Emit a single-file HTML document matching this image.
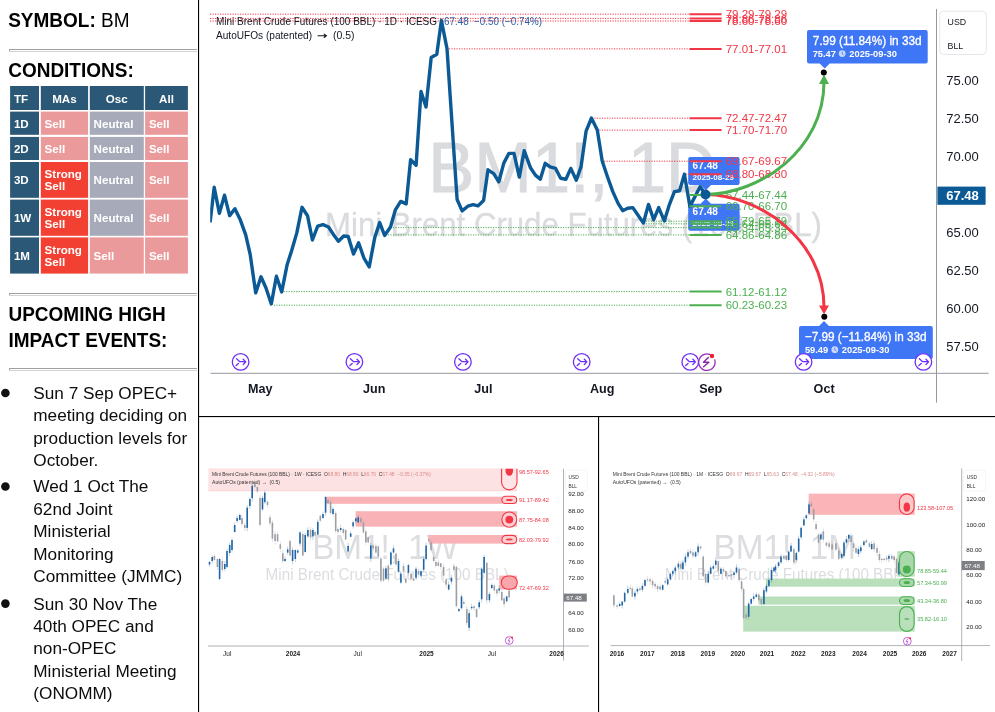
<!DOCTYPE html>
<html><head><meta charset="utf-8"><style>
html,body{margin:0;padding:0;background:#fff;width:995px;height:712px;overflow:hidden}
svg{position:absolute;left:0;top:0;display:block;will-change:transform}
text{font-family:"Liberation Sans",sans-serif;white-space:pre}
</style></head><body>
<svg width="995" height="712" viewBox="0 0 995 712">
<text transform="translate(8.2,26.7) scale(1,1.06)" x="0" y="0" font-size="19" fill="#000" font-weight="normal"><tspan font-weight="bold">SYMBOL:</tspan> BM</text>
<text transform="translate(8.2,76.8) scale(1,1.06)" x="0" y="0" font-size="19" fill="#000" font-weight="bold">CONDITIONS:</text>
<text transform="translate(8.5,321.3) scale(1,1.06)" x="0" y="0" font-size="19" fill="#000" font-weight="bold">UPCOMING HIGH</text>
<text transform="translate(8.5,346.9) scale(1,1.06)" x="0" y="0" font-size="19" fill="#000" font-weight="bold">IMPACT EVENTS:</text>
<rect x="9" y="49" width="188" height="1" fill="#a0a0a0"/>
<rect x="9" y="51" width="188" height="1" fill="#d2d2d2"/>
<rect x="9" y="49" width="1" height="2" fill="#a0a0a0"/>
<rect x="9" y="293" width="188" height="1" fill="#a0a0a0"/>
<rect x="9" y="295" width="188" height="1" fill="#d2d2d2"/>
<rect x="9" y="293" width="1" height="2" fill="#a0a0a0"/>
<rect x="9" y="368" width="188" height="1" fill="#a0a0a0"/>
<rect x="9" y="370" width="188" height="1" fill="#d2d2d2"/>
<rect x="9" y="368" width="1" height="2" fill="#a0a0a0"/>
<rect x="10.1" y="86" width="28.9" height="24.0" fill="#2a5876"/>
<text x="13.899999999999999" y="103.3" font-size="11.6" fill="#fff" font-weight="bold" text-anchor="start" >TF</text>
<rect x="40.8" y="86" width="47.3" height="24.0" fill="#2a5876"/>
<text x="64.44999999999999" y="103.3" font-size="11.6" fill="#fff" font-weight="bold" text-anchor="middle" >MAs</text>
<rect x="89.8" y="86" width="54.0" height="24.0" fill="#2a5876"/>
<text x="116.80000000000001" y="103.3" font-size="11.6" fill="#fff" font-weight="bold" text-anchor="middle" >Osc</text>
<rect x="145.1" y="86" width="42.8" height="24.0" fill="#2a5876"/>
<text x="166.5" y="103.3" font-size="11.6" fill="#fff" font-weight="bold" text-anchor="middle" >All</text>
<rect x="10.1" y="111.6" width="28.9" height="23.2" fill="#2a5876"/>
<text x="13.899999999999999" y="127.5" font-size="11.6" fill="#fff" font-weight="bold" text-anchor="start" >1D</text>
<rect x="40.8" y="111.6" width="47.3" height="23.2" fill="#eb9a9c"/>
<text x="44.599999999999994" y="127.5" font-size="11.6" fill="#fff" font-weight="bold" text-anchor="start" >Sell</text>
<rect x="89.8" y="111.6" width="54.0" height="23.2" fill="#a7abb9"/>
<text x="93.6" y="127.5" font-size="11.6" fill="#fff" font-weight="bold" text-anchor="start" >Neutral</text>
<rect x="145.1" y="111.6" width="42.8" height="23.2" fill="#eb9a9c"/>
<text x="148.9" y="127.5" font-size="11.6" fill="#fff" font-weight="bold" text-anchor="start" >Sell</text>
<rect x="10.1" y="136.9" width="28.9" height="23.1" fill="#2a5876"/>
<text x="13.899999999999999" y="152.75" font-size="11.6" fill="#fff" font-weight="bold" text-anchor="start" >2D</text>
<rect x="40.8" y="136.9" width="47.3" height="23.1" fill="#eb9a9c"/>
<text x="44.599999999999994" y="152.75" font-size="11.6" fill="#fff" font-weight="bold" text-anchor="start" >Sell</text>
<rect x="89.8" y="136.9" width="54.0" height="23.1" fill="#a7abb9"/>
<text x="93.6" y="152.75" font-size="11.6" fill="#fff" font-weight="bold" text-anchor="start" >Neutral</text>
<rect x="145.1" y="136.9" width="42.8" height="23.1" fill="#eb9a9c"/>
<text x="148.9" y="152.75" font-size="11.6" fill="#fff" font-weight="bold" text-anchor="start" >Sell</text>
<rect x="10.1" y="162" width="28.9" height="35.8" fill="#2a5876"/>
<text x="13.899999999999999" y="184.20000000000002" font-size="11.6" fill="#fff" font-weight="bold" text-anchor="start" >3D</text>
<rect x="40.8" y="162" width="47.3" height="35.8" fill="#f24133"/>
<text x="44.599999999999994" y="178.1" font-size="11.6" fill="#fff" font-weight="bold" text-anchor="start" >Strong</text>
<text x="44.599999999999994" y="190.1" font-size="11.6" fill="#fff" font-weight="bold" text-anchor="start" >Sell</text>
<rect x="89.8" y="162" width="54.0" height="35.8" fill="#a7abb9"/>
<text x="93.6" y="184.20000000000002" font-size="11.6" fill="#fff" font-weight="bold" text-anchor="start" >Neutral</text>
<rect x="145.1" y="162" width="42.8" height="35.8" fill="#eb9a9c"/>
<text x="148.9" y="184.20000000000002" font-size="11.6" fill="#fff" font-weight="bold" text-anchor="start" >Sell</text>
<rect x="10.1" y="199.6" width="28.9" height="36.2" fill="#2a5876"/>
<text x="13.899999999999999" y="222.0" font-size="11.6" fill="#fff" font-weight="bold" text-anchor="start" >1W</text>
<rect x="40.8" y="199.6" width="47.3" height="36.2" fill="#f24133"/>
<text x="44.599999999999994" y="215.89999999999998" font-size="11.6" fill="#fff" font-weight="bold" text-anchor="start" >Strong</text>
<text x="44.599999999999994" y="227.89999999999998" font-size="11.6" fill="#fff" font-weight="bold" text-anchor="start" >Sell</text>
<rect x="89.8" y="199.6" width="54.0" height="36.2" fill="#a7abb9"/>
<text x="93.6" y="222.0" font-size="11.6" fill="#fff" font-weight="bold" text-anchor="start" >Neutral</text>
<rect x="145.1" y="199.6" width="42.8" height="36.2" fill="#eb9a9c"/>
<text x="148.9" y="222.0" font-size="11.6" fill="#fff" font-weight="bold" text-anchor="start" >Sell</text>
<rect x="10.1" y="237.4" width="28.9" height="36.2" fill="#2a5876"/>
<text x="13.899999999999999" y="259.8" font-size="11.6" fill="#fff" font-weight="bold" text-anchor="start" >1M</text>
<rect x="40.8" y="237.4" width="47.3" height="36.2" fill="#f24133"/>
<text x="44.599999999999994" y="253.7" font-size="11.6" fill="#fff" font-weight="bold" text-anchor="start" >Strong</text>
<text x="44.599999999999994" y="265.7" font-size="11.6" fill="#fff" font-weight="bold" text-anchor="start" >Sell</text>
<rect x="89.8" y="237.4" width="54.0" height="36.2" fill="#eb9a9c"/>
<text x="93.6" y="259.8" font-size="11.6" fill="#fff" font-weight="bold" text-anchor="start" >Sell</text>
<rect x="145.1" y="237.4" width="42.8" height="36.2" fill="#eb9a9c"/>
<text x="148.9" y="259.8" font-size="11.6" fill="#fff" font-weight="bold" text-anchor="start" >Sell</text>
<circle cx="5.4" cy="393.0" r="4.3" fill="#111"/>
<text x="33.3" y="398.9" font-size="17.2" fill="#0d0d0d" font-weight="normal" text-anchor="start" >Sun 7 Sep OPEC+</text>
<text x="33.3" y="421.3" font-size="17.2" fill="#0d0d0d" font-weight="normal" text-anchor="start" >meeting deciding on</text>
<text x="33.3" y="443.7" font-size="17.2" fill="#0d0d0d" font-weight="normal" text-anchor="start" >production levels for</text>
<text x="33.3" y="466.1" font-size="17.2" fill="#0d0d0d" font-weight="normal" text-anchor="start" >October.</text>
<circle cx="5.4" cy="486.5" r="4.3" fill="#111"/>
<text x="33.3" y="492.4" font-size="17.2" fill="#0d0d0d" font-weight="normal" text-anchor="start" >Wed 1 Oct The</text>
<text x="33.3" y="514.8" font-size="17.2" fill="#0d0d0d" font-weight="normal" text-anchor="start" >62nd Joint</text>
<text x="33.3" y="537.2" font-size="17.2" fill="#0d0d0d" font-weight="normal" text-anchor="start" >Ministerial</text>
<text x="33.3" y="559.6" font-size="17.2" fill="#0d0d0d" font-weight="normal" text-anchor="start" >Monitoring</text>
<text x="33.3" y="582.0" font-size="17.2" fill="#0d0d0d" font-weight="normal" text-anchor="start" >Committee (JMMC)</text>
<circle cx="5.4" cy="603.6" r="4.3" fill="#111"/>
<text x="33.3" y="609.5" font-size="17.2" fill="#0d0d0d" font-weight="normal" text-anchor="start" >Sun 30 Nov The</text>
<text x="33.3" y="631.9" font-size="17.2" fill="#0d0d0d" font-weight="normal" text-anchor="start" >40th OPEC and</text>
<text x="33.3" y="654.3" font-size="17.2" fill="#0d0d0d" font-weight="normal" text-anchor="start" >non-OPEC</text>
<text x="33.3" y="676.7" font-size="17.2" fill="#0d0d0d" font-weight="normal" text-anchor="start" >Ministerial Meeting</text>
<text x="33.3" y="699.1" font-size="17.2" fill="#0d0d0d" font-weight="normal" text-anchor="start" >(ONOMM)</text>
<rect x="198" y="0" width="1.1" height="712" fill="#000"/>
<rect x="198" y="416" width="797" height="1.1" fill="#000"/>
<rect x="598" y="416" width="1.1" height="296" fill="#000"/>
<text x="428.2" y="192.4" font-size="70" fill="#dadbde" stroke="#dadbde" stroke-width="0.9" textLength="287.8" lengthAdjust="spacingAndGlyphs">BM1!, 1D</text>
<text transform="translate(325,236) scale(1,1.09)" x="0" y="0" font-size="30" fill="#dadbde" stroke="#dadbde" stroke-width="0.3" textLength="497" lengthAdjust="spacingAndGlyphs">Mini Brent Crude Futures (100 BBL)</text>
<line x1="210" y1="14.2" x2="689.5" y2="14.2" stroke="#f23645" stroke-width="1" stroke-dasharray="1.2 1.3"/>
<line x1="210" y1="18.4" x2="689.5" y2="18.4" stroke="#f23645" stroke-width="1" stroke-dasharray="1.2 1.3"/>
<line x1="210" y1="21.0" x2="689.5" y2="21.0" stroke="#f23645" stroke-width="1" stroke-dasharray="1.2 1.3"/>
<line x1="449" y1="48.9" x2="689.5" y2="48.9" stroke="#f23645" stroke-width="1" stroke-dasharray="1.2 1.3"/>
<line x1="594.4" y1="118.2" x2="689.5" y2="118.2" stroke="#f23645" stroke-width="1" stroke-dasharray="1.2 1.3"/>
<line x1="599.3" y1="130.1" x2="689.5" y2="130.1" stroke="#f23645" stroke-width="1" stroke-dasharray="1.2 1.3"/>
<line x1="604" y1="161.2" x2="689.5" y2="161.2" stroke="#f23645" stroke-width="1" stroke-dasharray="1.2 1.3"/>
<line x1="686" y1="174.2" x2="689.5" y2="174.2" stroke="#f23645" stroke-width="1" stroke-dasharray="1.2 1.3"/>
<line x1="645.8" y1="221.2" x2="689.5" y2="221.2" stroke="#4caf50" stroke-width="1" stroke-dasharray="1.2 1.3"/>
<line x1="645.8" y1="223.8" x2="689.5" y2="223.8" stroke="#4caf50" stroke-width="1" stroke-dasharray="1.2 1.3"/>
<line x1="388" y1="227.6" x2="689.5" y2="227.6" stroke="#4caf50" stroke-width="1" stroke-dasharray="1.2 1.3"/>
<line x1="388" y1="234.9" x2="689.5" y2="234.9" stroke="#4caf50" stroke-width="1" stroke-dasharray="1.2 1.3"/>
<line x1="283.6" y1="291.6" x2="689.5" y2="291.6" stroke="#4caf50" stroke-width="1" stroke-dasharray="1.2 1.3"/>
<line x1="273.8" y1="305.2" x2="689.5" y2="305.2" stroke="#4caf50" stroke-width="1" stroke-dasharray="1.2 1.3"/>
<path d="M690.2,157 h47.4 a2,2 0 0 1 2,2 v24 a2,2 0 0 1 -2,2 h-26.6 l-5.2,5.2 l-5.2,-5.2 h-10.4 a2,2 0 0 1 -2,-2 v-24 a2,2 0 0 1 2,-2 z" fill="#3f76f6"/>
<path d="M690.2,203.7 h10.4 l5.2,-5.2 l5.2,5.2 h26.6 a2,2 0 0 1 2,2 v23.1 a2,2 0 0 1 -2,2 h-47.4 a2,2 0 0 1 -2,-2 v-23.1 a2,2 0 0 1 2,-2 z" fill="#3f76f6"/>
<text x="692.6" y="169" font-size="10.1" fill="#fff" font-weight="bold" text-anchor="start" >67.48</text>
<text x="692.6" y="179.5" font-size="8.1" fill="#fff" font-weight="bold" text-anchor="start" >2025-08-29</text>
<text x="692.6" y="215" font-size="10.1" fill="#fff" font-weight="bold" text-anchor="start" >67.48</text>
<text x="692.6" y="225.8" font-size="8.1" fill="#fff" font-weight="bold" text-anchor="start" >2025-08-29</text>
<clipPath id="cl"><rect x="210.2" y="0" width="800" height="400"/></clipPath>
<polyline clip-path="url(#cl)" points="210.1,222.4 214.2,187.3 219.4,213.3 224.5,195.2 229.6,215.6 234.9,208.7 240.4,220.1 245.7,234.9 250.2,254.5 255.7,292.9 261,276.8 266,288 271.3,304 276.4,276.2 281.7,291.9 287.2,264.4 291.7,250.5 296.8,232.9 302,207.3 307.5,215.7 312.4,240 317.7,226.2 323,224.6 328.5,227 333.4,234.4 338.4,241.3 343.7,236 348.2,236.4 353.5,254.1 358.6,242.7 363.9,258 369.2,266.9 374.8,237.4 379.7,222.6 384.6,235.4 390.5,227 395.4,209.8 400.7,201.4 406.2,203.9 410.6,159.7 416.1,165.2 421,91.5 426,107 431.2,57.4 436.8,54.2 441.4,20.5 447,48.6 457.1,199.5 462.1,210.9 467.8,206.2 473.1,204.6 477.9,205.9 483.6,200.5 488,169.8 493.7,173.6 498.8,181.8 503.8,163.1 508.9,153.4 514,153.4 519.3,177.1 524.2,150.7 530.5,167.8 535.4,175.1 540.3,179.2 545.2,163.3 550.1,166.9 555.6,168.4 560.6,178.3 565.9,179.2 570.8,168.4 576.3,180.2 581,166.9 586.1,131.1 591.4,118.1 597.3,129.9 602.2,161 607.2,176 612.7,191.4 618.1,203.4 622.7,210.7 627.7,208.3 632.8,207.6 643.4,223 648.5,204.4 653.7,219.7 658.7,207.6 664.3,220.9 669.4,204.6 674.4,191.6 679.6,190.8 684.4,174.2 689.9,206.4 700.1,186.8 705.5,194.4" fill="none" stroke="#0b5a96" stroke-width="3.4" stroke-linejoin="round" stroke-linecap="butt"/>
<line x1="689.5" y1="14.2" x2="721.6" y2="14.2" stroke="#f23645" stroke-width="2"/>
<text x="725.7" y="18.299999999999997" font-size="11.5" fill="#f23645" font-weight="normal" text-anchor="start" >79.29-79.29</text>
<line x1="689.5" y1="18.4" x2="721.6" y2="18.4" stroke="#f23645" stroke-width="2"/>
<text x="725.7" y="22.5" font-size="11.5" fill="#f23645" font-weight="normal" text-anchor="start" >78.86-78.86</text>
<line x1="689.5" y1="21.0" x2="721.6" y2="21.0" stroke="#f23645" stroke-width="2"/>
<text x="725.7" y="25.1" font-size="11.5" fill="#f23645" font-weight="normal" text-anchor="start" >78.60-78.60</text>
<line x1="689.5" y1="48.9" x2="721.6" y2="48.9" stroke="#f23645" stroke-width="2"/>
<text x="725.7" y="53.0" font-size="11.5" fill="#f23645" font-weight="normal" text-anchor="start" >77.01-77.01</text>
<line x1="689.5" y1="118.2" x2="721.6" y2="118.2" stroke="#f23645" stroke-width="2"/>
<text x="725.7" y="122.3" font-size="11.5" fill="#f23645" font-weight="normal" text-anchor="start" >72.47-72.47</text>
<line x1="689.5" y1="130.1" x2="721.6" y2="130.1" stroke="#f23645" stroke-width="2"/>
<text x="725.7" y="134.2" font-size="11.5" fill="#f23645" font-weight="normal" text-anchor="start" >71.70-71.70</text>
<line x1="689.5" y1="161.2" x2="721.6" y2="161.2" stroke="#f23645" stroke-width="2"/>
<text x="725.7" y="165.29999999999998" font-size="11.5" fill="#f23645" font-weight="normal" text-anchor="start" >69.67-69.67</text>
<line x1="689.5" y1="174.2" x2="721.6" y2="174.2" stroke="#f23645" stroke-width="2"/>
<text x="725.7" y="178.29999999999998" font-size="11.5" fill="#f23645" font-weight="normal" text-anchor="start" >68.80-68.80</text>
<line x1="689.5" y1="195.1" x2="721.6" y2="195.1" stroke="#4caf50" stroke-width="2"/>
<text x="725.7" y="199.2" font-size="11.5" fill="#4caf50" font-weight="normal" text-anchor="start" >67.44-67.44</text>
<line x1="689.5" y1="206.2" x2="721.6" y2="206.2" stroke="#4caf50" stroke-width="2"/>
<text x="725.7" y="210.29999999999998" font-size="11.5" fill="#4caf50" font-weight="normal" text-anchor="start" >66.70-66.70</text>
<line x1="689.5" y1="221.2" x2="721.6" y2="221.2" stroke="#4caf50" stroke-width="2"/>
<text x="725.7" y="225.29999999999998" font-size="11.5" fill="#4caf50" font-weight="normal" text-anchor="start" >65.79-65.79</text>
<line x1="689.5" y1="223.8" x2="721.6" y2="223.8" stroke="#4caf50" stroke-width="2"/>
<text x="725.7" y="227.9" font-size="11.5" fill="#4caf50" font-weight="normal" text-anchor="start" >65.64-65.64</text>
<line x1="689.5" y1="227.6" x2="721.6" y2="227.6" stroke="#4caf50" stroke-width="2"/>
<text x="725.7" y="231.7" font-size="11.5" fill="#4caf50" font-weight="normal" text-anchor="start" >65.34-65.34</text>
<line x1="689.5" y1="234.9" x2="721.6" y2="234.9" stroke="#4caf50" stroke-width="2"/>
<text x="725.7" y="239.0" font-size="11.5" fill="#4caf50" font-weight="normal" text-anchor="start" >64.86-64.86</text>
<line x1="689.5" y1="291.6" x2="721.6" y2="291.6" stroke="#4caf50" stroke-width="2"/>
<text x="725.7" y="295.70000000000005" font-size="11.5" fill="#4caf50" font-weight="normal" text-anchor="start" >61.12-61.12</text>
<line x1="689.5" y1="305.2" x2="721.6" y2="305.2" stroke="#4caf50" stroke-width="2"/>
<text x="725.7" y="309.3" font-size="11.5" fill="#4caf50" font-weight="normal" text-anchor="start" >60.23-60.23</text>
<path d="M705.5,194.5 C760,195 824,240 824,307" fill="none" stroke="#f23645" stroke-width="3"/>
<path d="M819,305.5 L824,314.2 L829,305.5 z" fill="#f23645"/>
<path d="M705.5,194.5 C760,194 824,150 824,82" fill="none" stroke="#4caf50" stroke-width="3"/>
<path d="M819,84 L824,74.5 L829,84 z" fill="#4caf50"/>
<circle cx="705.5" cy="194.5" r="5" fill="#0b5a96"/>
<circle cx="823.8" cy="72.5" r="3" fill="#000"/>
<circle cx="824.3" cy="316.8" r="3" fill="#000"/>
<path d="M809,30 h116.7 a2,2 0 0 1 2,2 v29.5 a2,2 0 0 1 -2,2 h-96 l-5,5 l-5,-5 h-10.7 a2,2 0 0 1 -2,-2 v-29.5 a2,2 0 0 1 2,-2 z" fill="#3f76f6"/>
<text x="812.7" y="45" font-size="13.3" fill="#fff" font-weight="normal" text-anchor="start" textLength="109" lengthAdjust="spacingAndGlyphs" stroke="#fff" stroke-width="0.35">7.99 (11.84%) in 33d</text>
<text x="812.7" y="57" font-size="9.3" fill="#fff" font-weight="bold" text-anchor="start" >75.47</text>
<circle cx="842.2" cy="53.6" r="3.4" fill="#c9d8fb"/><path d="M842.2,51.6 V53.8 L843.8,55" fill="none" stroke="#3f76f6" stroke-width="0.8"/>
<text x="849.3" y="57" font-size="9.3" fill="#fff" font-weight="bold" text-anchor="start" >2025-09-30</text>
<path d="M801,326 h18 l5,-5 l5,5 h101.8 a2,2 0 0 1 2,2 v29 a2,2 0 0 1 -2,2 h-129.8 a2,2 0 0 1 -2,-2 v-29 a2,2 0 0 1 2,-2 z" fill="#3f76f6"/>
<text x="804.9" y="341.2" font-size="13.3" fill="#fff" font-weight="normal" text-anchor="start" textLength="121.6" lengthAdjust="spacingAndGlyphs" stroke="#fff" stroke-width="0.35">−7.99 (−11.84%) in 33d</text>
<text x="804.9" y="353.1" font-size="9.3" fill="#fff" font-weight="bold" text-anchor="start" >59.49</text>
<circle cx="834.8" cy="349.7" r="3.4" fill="#c9d8fb"/><path d="M834.8,347.7 V349.9 L836.4,351.1" fill="none" stroke="#3f76f6" stroke-width="0.8"/>
<text x="841.8" y="353.1" font-size="9.3" fill="#fff" font-weight="bold" text-anchor="start" >2025-09-30</text>
<line x1="936.5" y1="9" x2="936.5" y2="402.7" stroke="#9598a1" stroke-width="1"/>
<line x1="210.6" y1="373.3" x2="988.7" y2="373.3" stroke="#9598a1" stroke-width="1"/>
<text x="946.2" y="84.69999999999999" font-size="13" fill="#131722" font-weight="normal" text-anchor="start" >75.00</text>
<text x="946.2" y="122.8" font-size="13" fill="#131722" font-weight="normal" text-anchor="start" >72.50</text>
<text x="946.2" y="160.9" font-size="13" fill="#131722" font-weight="normal" text-anchor="start" >70.00</text>
<text x="946.2" y="237.1" font-size="13" fill="#131722" font-weight="normal" text-anchor="start" >65.00</text>
<text x="946.2" y="275.20000000000005" font-size="13" fill="#131722" font-weight="normal" text-anchor="start" >62.50</text>
<text x="946.2" y="313.3" font-size="13" fill="#131722" font-weight="normal" text-anchor="start" >60.00</text>
<text x="946.2" y="351.40000000000003" font-size="13" fill="#131722" font-weight="normal" text-anchor="start" >57.50</text>
<rect x="937.4" y="186.6" width="48.2" height="18.2" fill="#0b5a96"/>
<text x="946.2" y="200.3" font-size="13" fill="#fff" font-weight="bold" text-anchor="start" >67.48</text>
<rect x="939.7" y="11.2" width="46.6" height="43.3" rx="4" fill="#fff" stroke="#e6e7ea" stroke-width="1"/>
<text x="947.6" y="25.4" font-size="8.8" fill="#131722" font-weight="normal" text-anchor="start" >USD</text>
<text x="947.6" y="48.5" font-size="8.8" fill="#131722" font-weight="normal" text-anchor="start" >BLL</text>
<text x="260.3" y="392.6" font-size="12.6" fill="#131722" font-weight="bold" text-anchor="middle" >May</text>
<text x="374.3" y="392.6" font-size="12.6" fill="#131722" font-weight="bold" text-anchor="middle" >Jun</text>
<text x="483.4" y="392.6" font-size="12.6" fill="#131722" font-weight="bold" text-anchor="middle" >Jul</text>
<text x="602.2" y="392.6" font-size="12.6" fill="#131722" font-weight="bold" text-anchor="middle" >Aug</text>
<text x="710.7" y="392.6" font-size="12.6" fill="#131722" font-weight="bold" text-anchor="middle" >Sep</text>
<text x="824.1" y="392.6" font-size="12.6" fill="#131722" font-weight="bold" text-anchor="middle" >Oct</text>
<path d="M711.9000000000001,355.7 A8.2,8.2 0 1 0 714.6,359.4" fill="#fff" stroke="#9a2ab8" stroke-width="1.3"/>
<path d="M708.3000000000001,357.4 L703.5,362.2 H708.9000000000001 L703.5,366.79999999999995" fill="none" stroke="#8e24aa" stroke-width="1.4" stroke-linejoin="round" stroke-linecap="round"/>
<circle cx="712" cy="356" r="2.2" fill="#f01f2f"/>
<circle cx="240.6" cy="361.9" r="8.3" fill="#fff" stroke="#6d2ef7" stroke-width="1.3"/>
<path d="M236.6,358.79999999999995 L239.79999999999998,361.7 H245.6 M243.2,359.29999999999995 L245.79999999999998,361.9 L243.2,364.5 M236.1,365.5 L238.4,363.4" fill="none" stroke="#6d2ef7" stroke-width="1.3" stroke-linecap="round" stroke-linejoin="round"/>
<circle cx="354.4" cy="361.9" r="8.3" fill="#fff" stroke="#6d2ef7" stroke-width="1.3"/>
<path d="M350.4,358.79999999999995 L353.59999999999997,361.7 H359.4 M357.0,359.29999999999995 L359.59999999999997,361.9 L357.0,364.5 M349.9,365.5 L352.2,363.4" fill="none" stroke="#6d2ef7" stroke-width="1.3" stroke-linecap="round" stroke-linejoin="round"/>
<circle cx="462.9" cy="361.9" r="8.3" fill="#fff" stroke="#6d2ef7" stroke-width="1.3"/>
<path d="M458.9,358.79999999999995 L462.09999999999997,361.7 H467.9 M465.5,359.29999999999995 L468.09999999999997,361.9 L465.5,364.5 M458.4,365.5 L460.7,363.4" fill="none" stroke="#6d2ef7" stroke-width="1.3" stroke-linecap="round" stroke-linejoin="round"/>
<circle cx="581.7" cy="361.9" r="8.3" fill="#fff" stroke="#6d2ef7" stroke-width="1.3"/>
<path d="M577.7,358.79999999999995 L580.9000000000001,361.7 H586.7 M584.3000000000001,359.29999999999995 L586.9000000000001,361.9 L584.3000000000001,364.5 M577.2,365.5 L579.5,363.4" fill="none" stroke="#6d2ef7" stroke-width="1.3" stroke-linecap="round" stroke-linejoin="round"/>
<circle cx="690.25" cy="361.9" r="8.3" fill="#fff" stroke="#6d2ef7" stroke-width="1.3"/>
<path d="M686.25,358.79999999999995 L689.45,361.7 H695.25 M692.85,359.29999999999995 L695.45,361.9 L692.85,364.5 M685.75,365.5 L688.05,363.4" fill="none" stroke="#6d2ef7" stroke-width="1.3" stroke-linecap="round" stroke-linejoin="round"/>
<circle cx="803.6" cy="361.9" r="8.3" fill="#fff" stroke="#6d2ef7" stroke-width="1.3"/>
<path d="M799.6,358.79999999999995 L802.8000000000001,361.7 H808.6 M806.2,359.29999999999995 L808.8000000000001,361.9 L806.2,364.5 M799.1,365.5 L801.4,363.4" fill="none" stroke="#6d2ef7" stroke-width="1.3" stroke-linecap="round" stroke-linejoin="round"/>
<circle cx="923.4" cy="361.9" r="8.3" fill="#fff" stroke="#6d2ef7" stroke-width="1.3"/>
<path d="M919.4,358.79999999999995 L922.6,361.7 H928.4 M926.0,359.29999999999995 L928.6,361.9 L926.0,364.5 M918.9,365.5 L921.1999999999999,363.4" fill="none" stroke="#6d2ef7" stroke-width="1.3" stroke-linecap="round" stroke-linejoin="round"/>
<text x="216" y="24.5" font-size="10" fill="#131722" font-weight="normal" text-anchor="start" textLength="221" lengthAdjust="spacingAndGlyphs">Mini Brent Crude Futures (100 BBL) · 1D · ICESG</text>
<text x="444" y="24.5" font-size="10" fill="#2962a8" font-weight="normal" text-anchor="start" textLength="98" lengthAdjust="spacingAndGlyphs">67.48  −0.50 (−0.74%)</text>
<text x="216" y="39.2" font-size="10" fill="#131722" font-weight="normal" text-anchor="start" textLength="96" lengthAdjust="spacingAndGlyphs">AutoUFOs (patented)</text>
<path d="M317.6,35.8 H326.2 M323.8,33.9 L326.4,35.8 L323.8,37.7" fill="none" stroke="#131722" stroke-width="1.1"/>
<text x="333" y="39.2" font-size="10" fill="#131722" font-weight="normal" text-anchor="start" textLength="21.6" lengthAdjust="spacingAndGlyphs">(0.5)</text>
<text x="312.2" y="558.9" font-size="34.5" fill="#dcdde0" font-weight="normal" text-anchor="start" textLength="146" lengthAdjust="spacingAndGlyphs">BM1!, 1W</text>
<text x="265.6" y="579.7" font-size="16" fill="#dcdde0" font-weight="normal" text-anchor="start" textLength="243" lengthAdjust="spacingAndGlyphs">Mini Brent Crude Futures (100 BBL)</text>
<rect x="208.4" y="468.4" width="308.6" height="22.5" fill="#fde2e3"/>
<line x1="208.4" y1="490.9" x2="517" y2="490.9" stroke="#f6a3a8" stroke-width="0.6" stroke-dasharray="1 1"/>
<rect x="325.2" y="496.7" width="191.8" height="7.1" fill="#f9b3b6"/>
<rect x="355.6" y="511.2" width="161.4" height="15.5" fill="#f9b3b6"/>
<rect x="428.6" y="535" width="88.4" height="8.6" fill="#f9b3b6"/>
<rect x="499.2" y="575.6" width="17.8" height="13.8" fill="#f9b3b6"/>
<line x1="209.5" y1="560.8" x2="209.5" y2="566.6" stroke="#1f65a6" stroke-width="0.5" opacity="0.6"/>
<rect x="208.70" y="562.0" width="1.6" height="2.5" fill="#1f65a6"/>
<line x1="212.2" y1="555.4" x2="212.2" y2="563.3" stroke="#1f65a6" stroke-width="0.5" opacity="0.6"/>
<rect x="211.40" y="557.0" width="1.6" height="4.0" fill="#1f65a6"/>
<line x1="214.4" y1="553.6" x2="214.4" y2="560.7" stroke="#9c9ea4" stroke-width="0.5" opacity="0.6"/>
<rect x="213.60" y="556.0" width="1.6" height="4.0" fill="#9c9ea4"/>
<line x1="217.4" y1="558.5" x2="217.4" y2="570.0" stroke="#9c9ea4" stroke-width="0.5" opacity="0.6"/>
<rect x="216.60" y="559.0" width="1.6" height="8.0" fill="#9c9ea4"/>
<line x1="219.6" y1="557.7" x2="219.6" y2="580.2" stroke="#1f65a6" stroke-width="0.5" opacity="0.6"/>
<rect x="218.80" y="559.0" width="1.6" height="20.0" fill="#1f65a6"/>
<line x1="222.3" y1="557.5" x2="222.3" y2="571.9" stroke="#9c9ea4" stroke-width="0.5" opacity="0.6"/>
<rect x="221.50" y="561.0" width="1.6" height="9.0" fill="#9c9ea4"/>
<line x1="224.8" y1="561.0" x2="224.8" y2="570.9" stroke="#1f65a6" stroke-width="0.5" opacity="0.6"/>
<rect x="224.00" y="564.0" width="1.6" height="5.0" fill="#1f65a6"/>
<line x1="227.0" y1="548.6" x2="227.0" y2="568.0" stroke="#1f65a6" stroke-width="0.5" opacity="0.6"/>
<rect x="226.20" y="551.0" width="1.6" height="16.0" fill="#1f65a6"/>
<line x1="229.7" y1="542.6" x2="229.7" y2="556.1" stroke="#1f65a6" stroke-width="0.5" opacity="0.6"/>
<rect x="228.90" y="545.0" width="1.6" height="8.0" fill="#1f65a6"/>
<line x1="232.0" y1="537.9" x2="232.0" y2="552.7" stroke="#1f65a6" stroke-width="0.5" opacity="0.6"/>
<rect x="231.20" y="540.0" width="1.6" height="10.0" fill="#1f65a6"/>
<line x1="234.7" y1="522.5" x2="234.7" y2="532.7" stroke="#1f65a6" stroke-width="0.5" opacity="0.6"/>
<rect x="233.90" y="525.0" width="1.6" height="7.0" fill="#1f65a6"/>
<line x1="237.1" y1="515.2" x2="237.1" y2="523.3" stroke="#1f65a6" stroke-width="0.5" opacity="0.6"/>
<rect x="236.30" y="518.0" width="1.6" height="3.0" fill="#1f65a6"/>
<line x1="239.8" y1="513.6" x2="239.8" y2="520.6" stroke="#1f65a6" stroke-width="0.5" opacity="0.6"/>
<rect x="239.00" y="515.0" width="1.6" height="5.0" fill="#1f65a6"/>
<line x1="242.0" y1="514.9" x2="242.0" y2="525.9" stroke="#9c9ea4" stroke-width="0.5" opacity="0.6"/>
<rect x="241.20" y="518.0" width="1.6" height="6.0" fill="#9c9ea4"/>
<line x1="244.8" y1="522.3" x2="244.8" y2="531.1" stroke="#9c9ea4" stroke-width="0.5" opacity="0.6"/>
<rect x="244.00" y="525.0" width="1.6" height="3.0" fill="#9c9ea4"/>
<line x1="247.2" y1="505.0" x2="247.2" y2="531.2" stroke="#1f65a6" stroke-width="0.5" opacity="0.6"/>
<rect x="246.40" y="507.6" width="1.6" height="20.3" fill="#1f65a6"/>
<line x1="249.9" y1="497.3" x2="249.9" y2="508.9" stroke="#1f65a6" stroke-width="0.5" opacity="0.6"/>
<rect x="249.10" y="499.0" width="1.6" height="7.0" fill="#1f65a6"/>
<line x1="252.2" y1="484.0" x2="252.2" y2="501.5" stroke="#1f65a6" stroke-width="0.5" opacity="0.6"/>
<rect x="251.40" y="485.8" width="1.6" height="12.4" fill="#1f65a6"/>
<line x1="254.9" y1="479.4" x2="254.9" y2="487.8" stroke="#9c9ea4" stroke-width="0.5" opacity="0.6"/>
<rect x="254.10" y="482.5" width="1.6" height="4.5" fill="#9c9ea4"/>
<line x1="257.4" y1="486.1" x2="257.4" y2="492.7" stroke="#9c9ea4" stroke-width="0.5" opacity="0.6"/>
<rect x="256.60" y="487.0" width="1.6" height="4.5" fill="#9c9ea4"/>
<line x1="260.0" y1="494.6" x2="260.0" y2="526.8" stroke="#9c9ea4" stroke-width="0.5" opacity="0.6"/>
<rect x="259.20" y="498.0" width="1.6" height="27.0" fill="#9c9ea4"/>
<line x1="262.5" y1="495.6" x2="262.5" y2="510.8" stroke="#1f65a6" stroke-width="0.5" opacity="0.6"/>
<rect x="261.70" y="498.0" width="1.6" height="11.4" fill="#1f65a6"/>
<line x1="264.8" y1="490.6" x2="264.8" y2="503.9" stroke="#1f65a6" stroke-width="0.5" opacity="0.6"/>
<rect x="264.00" y="492.6" width="1.6" height="9.6" fill="#1f65a6"/>
<line x1="267.5" y1="500.0" x2="267.5" y2="507.3" stroke="#9c9ea4" stroke-width="0.5" opacity="0.6"/>
<rect x="266.70" y="501.6" width="1.6" height="3.4" fill="#9c9ea4"/>
<line x1="270.0" y1="515.0" x2="270.0" y2="526.6" stroke="#9c9ea4" stroke-width="0.5" opacity="0.6"/>
<rect x="269.20" y="517.3" width="1.6" height="6.1" fill="#9c9ea4"/>
<line x1="272.4" y1="520.0" x2="272.4" y2="542.0" stroke="#9c9ea4" stroke-width="0.5" opacity="0.6"/>
<rect x="271.60" y="522.5" width="1.6" height="16.2" fill="#9c9ea4"/>
<line x1="275.1" y1="531.1" x2="275.1" y2="544.5" stroke="#9c9ea4" stroke-width="0.5" opacity="0.6"/>
<rect x="274.30" y="534.2" width="1.6" height="6.8" fill="#9c9ea4"/>
<line x1="277.6" y1="531.7" x2="277.6" y2="542.3" stroke="#9c9ea4" stroke-width="0.5" opacity="0.6"/>
<rect x="276.80" y="534.2" width="1.6" height="7.1" fill="#9c9ea4"/>
<line x1="280.3" y1="541.2" x2="280.3" y2="552.2" stroke="#9c9ea4" stroke-width="0.5" opacity="0.6"/>
<rect x="279.50" y="544.3" width="1.6" height="4.5" fill="#9c9ea4"/>
<line x1="282.8" y1="550.1" x2="282.8" y2="563.3" stroke="#9c9ea4" stroke-width="0.5" opacity="0.6"/>
<rect x="282.00" y="553.3" width="1.6" height="7.8" fill="#9c9ea4"/>
<line x1="285.0" y1="556.4" x2="285.0" y2="562.1" stroke="#1f65a6" stroke-width="0.5" opacity="0.6"/>
<rect x="284.20" y="559.0" width="1.6" height="2.0" fill="#1f65a6"/>
<line x1="287.7" y1="546.4" x2="287.7" y2="554.8" stroke="#1f65a6" stroke-width="0.5" opacity="0.6"/>
<rect x="286.90" y="549.4" width="1.6" height="3.2" fill="#1f65a6"/>
<line x1="290.0" y1="539.6" x2="290.0" y2="556.2" stroke="#9c9ea4" stroke-width="0.5" opacity="0.6"/>
<rect x="289.20" y="541.0" width="1.6" height="14.5" fill="#9c9ea4"/>
<line x1="292.6" y1="546.9" x2="292.6" y2="564.5" stroke="#1f65a6" stroke-width="0.5" opacity="0.6"/>
<rect x="291.80" y="550.0" width="1.6" height="11.0" fill="#1f65a6"/>
<line x1="295.3" y1="549.2" x2="295.3" y2="561.9" stroke="#1f65a6" stroke-width="0.5" opacity="0.6"/>
<rect x="294.50" y="550.0" width="1.6" height="9.0" fill="#1f65a6"/>
<line x1="297.8" y1="548.9" x2="297.8" y2="553.6" stroke="#1f65a6" stroke-width="0.5" opacity="0.6"/>
<rect x="297.00" y="550.6" width="1.6" height="2.0" fill="#1f65a6"/>
<line x1="300.0" y1="531.0" x2="300.0" y2="546.4" stroke="#1f65a6" stroke-width="0.5" opacity="0.6"/>
<rect x="299.20" y="532.4" width="1.6" height="11.2" fill="#1f65a6"/>
<line x1="302.8" y1="530.9" x2="302.8" y2="556.1" stroke="#9c9ea4" stroke-width="0.5" opacity="0.6"/>
<rect x="302.00" y="534.0" width="1.6" height="21.5" fill="#9c9ea4"/>
<line x1="305.2" y1="532.7" x2="305.2" y2="552.6" stroke="#1f65a6" stroke-width="0.5" opacity="0.6"/>
<rect x="304.40" y="535.0" width="1.6" height="17.0" fill="#1f65a6"/>
<line x1="307.9" y1="527.3" x2="307.9" y2="537.9" stroke="#1f65a6" stroke-width="0.5" opacity="0.6"/>
<rect x="307.10" y="530.0" width="1.6" height="6.4" fill="#1f65a6"/>
<line x1="310.6" y1="526.6" x2="310.6" y2="540.9" stroke="#9c9ea4" stroke-width="0.5" opacity="0.6"/>
<rect x="309.80" y="529.7" width="1.6" height="7.8" fill="#9c9ea4"/>
<line x1="312.9" y1="528.0" x2="312.9" y2="539.9" stroke="#1f65a6" stroke-width="0.5" opacity="0.6"/>
<rect x="312.10" y="530.0" width="1.6" height="6.4" fill="#1f65a6"/>
<line x1="315.1" y1="530.6" x2="315.1" y2="536.0" stroke="#9c9ea4" stroke-width="0.5" opacity="0.6"/>
<rect x="314.30" y="532.0" width="1.6" height="3.3" fill="#9c9ea4"/>
<line x1="317.8" y1="519.5" x2="317.8" y2="535.2" stroke="#1f65a6" stroke-width="0.5" opacity="0.6"/>
<rect x="317.00" y="521.8" width="1.6" height="12.8" fill="#1f65a6"/>
<line x1="320.3" y1="514.6" x2="320.3" y2="522.4" stroke="#9c9ea4" stroke-width="0.5" opacity="0.6"/>
<rect x="319.50" y="515.7" width="1.6" height="5.0" fill="#9c9ea4"/>
<line x1="323.0" y1="511.7" x2="323.0" y2="519.0" stroke="#1f65a6" stroke-width="0.5" opacity="0.6"/>
<rect x="322.20" y="514.0" width="1.6" height="4.0" fill="#1f65a6"/>
<line x1="325.6" y1="496.4" x2="325.6" y2="515.8" stroke="#1f65a6" stroke-width="0.5" opacity="0.6"/>
<rect x="324.80" y="497.0" width="1.6" height="15.7" fill="#1f65a6"/>
<line x1="328.0" y1="498.6" x2="328.0" y2="506.4" stroke="#9c9ea4" stroke-width="0.5" opacity="0.6"/>
<rect x="327.20" y="500.0" width="1.6" height="3.0" fill="#9c9ea4"/>
<line x1="330.6" y1="498.8" x2="330.6" y2="514.6" stroke="#9c9ea4" stroke-width="0.5" opacity="0.6"/>
<rect x="329.80" y="502.0" width="1.6" height="11.0" fill="#9c9ea4"/>
<line x1="333.0" y1="507.1" x2="333.0" y2="516.1" stroke="#1f65a6" stroke-width="0.5" opacity="0.6"/>
<rect x="332.20" y="509.0" width="1.6" height="5.0" fill="#1f65a6"/>
<line x1="335.7" y1="510.6" x2="335.7" y2="533.3" stroke="#9c9ea4" stroke-width="0.5" opacity="0.6"/>
<rect x="334.90" y="513.0" width="1.6" height="18.0" fill="#9c9ea4"/>
<line x1="338.0" y1="526.8" x2="338.0" y2="534.4" stroke="#9c9ea4" stroke-width="0.5" opacity="0.6"/>
<rect x="337.20" y="529.0" width="1.6" height="3.0" fill="#9c9ea4"/>
<line x1="340.7" y1="524.7" x2="340.7" y2="532.0" stroke="#1f65a6" stroke-width="0.5" opacity="0.6"/>
<rect x="339.90" y="528.0" width="1.6" height="2.0" fill="#1f65a6"/>
<line x1="343.3" y1="527.2" x2="343.3" y2="535.7" stroke="#9c9ea4" stroke-width="0.5" opacity="0.6"/>
<rect x="342.50" y="529.0" width="1.6" height="4.0" fill="#9c9ea4"/>
<line x1="345.7" y1="528.8" x2="345.7" y2="540.8" stroke="#9c9ea4" stroke-width="0.5" opacity="0.6"/>
<rect x="344.90" y="530.0" width="1.6" height="9.4" fill="#9c9ea4"/>
<line x1="348.1" y1="542.6" x2="348.1" y2="553.6" stroke="#1f65a6" stroke-width="0.5" opacity="0.6"/>
<rect x="347.30" y="546.0" width="1.6" height="5.5" fill="#1f65a6"/>
<line x1="350.7" y1="531.3" x2="350.7" y2="537.3" stroke="#1f65a6" stroke-width="0.5" opacity="0.6"/>
<rect x="349.90" y="533.4" width="1.6" height="3.4" fill="#1f65a6"/>
<line x1="353.1" y1="520.6" x2="353.1" y2="528.5" stroke="#1f65a6" stroke-width="0.5" opacity="0.6"/>
<rect x="352.30" y="522.3" width="1.6" height="4.0" fill="#1f65a6"/>
<line x1="355.8" y1="517.7" x2="355.8" y2="523.6" stroke="#1f65a6" stroke-width="0.5" opacity="0.6"/>
<rect x="355.00" y="518.3" width="1.6" height="3.0" fill="#1f65a6"/>
<line x1="358.2" y1="514.9" x2="358.2" y2="523.0" stroke="#1f65a6" stroke-width="0.5" opacity="0.6"/>
<rect x="357.40" y="517.3" width="1.6" height="5.0" fill="#1f65a6"/>
<line x1="360.8" y1="515.9" x2="360.8" y2="524.2" stroke="#9c9ea4" stroke-width="0.5" opacity="0.6"/>
<rect x="360.00" y="518.3" width="1.6" height="4.0" fill="#9c9ea4"/>
<line x1="363.4" y1="519.8" x2="363.4" y2="534.0" stroke="#9c9ea4" stroke-width="0.5" opacity="0.6"/>
<rect x="362.60" y="522.3" width="1.6" height="10.1" fill="#9c9ea4"/>
<line x1="365.8" y1="528.8" x2="365.8" y2="545.1" stroke="#9c9ea4" stroke-width="0.5" opacity="0.6"/>
<rect x="365.00" y="531.4" width="1.6" height="11.0" fill="#9c9ea4"/>
<line x1="368.2" y1="536.8" x2="368.2" y2="543.1" stroke="#9c9ea4" stroke-width="0.5" opacity="0.6"/>
<rect x="367.40" y="537.4" width="1.6" height="5.0" fill="#9c9ea4"/>
<line x1="370.8" y1="542.9" x2="370.8" y2="561.9" stroke="#1f65a6" stroke-width="0.5" opacity="0.6"/>
<rect x="370.00" y="545.4" width="1.6" height="13.1" fill="#1f65a6"/>
<line x1="373.2" y1="544.1" x2="373.2" y2="550.3" stroke="#9c9ea4" stroke-width="0.5" opacity="0.6"/>
<rect x="372.40" y="545.4" width="1.6" height="3.0" fill="#9c9ea4"/>
<line x1="375.9" y1="543.7" x2="375.9" y2="554.0" stroke="#9c9ea4" stroke-width="0.5" opacity="0.6"/>
<rect x="375.10" y="546.0" width="1.6" height="6.5" fill="#9c9ea4"/>
<line x1="378.3" y1="544.8" x2="378.3" y2="557.9" stroke="#9c9ea4" stroke-width="0.5" opacity="0.6"/>
<rect x="377.50" y="546.4" width="1.6" height="10.1" fill="#9c9ea4"/>
<line x1="380.9" y1="556.9" x2="380.9" y2="582.9" stroke="#9c9ea4" stroke-width="0.5" opacity="0.6"/>
<rect x="380.10" y="558.5" width="1.6" height="22.1" fill="#9c9ea4"/>
<line x1="383.5" y1="567.1" x2="383.5" y2="582.2" stroke="#9c9ea4" stroke-width="0.5" opacity="0.6"/>
<rect x="382.70" y="568.5" width="1.6" height="12.1" fill="#9c9ea4"/>
<line x1="385.9" y1="565.7" x2="385.9" y2="579.2" stroke="#1f65a6" stroke-width="0.5" opacity="0.6"/>
<rect x="385.10" y="568.5" width="1.6" height="10.1" fill="#1f65a6"/>
<line x1="388.3" y1="563.3" x2="388.3" y2="582.3" stroke="#9c9ea4" stroke-width="0.5" opacity="0.6"/>
<rect x="387.50" y="565.5" width="1.6" height="14.1" fill="#9c9ea4"/>
<line x1="390.9" y1="551.1" x2="390.9" y2="565.7" stroke="#1f65a6" stroke-width="0.5" opacity="0.6"/>
<rect x="390.10" y="552.5" width="1.6" height="12.0" fill="#1f65a6"/>
<line x1="393.5" y1="545.5" x2="393.5" y2="553.7" stroke="#1f65a6" stroke-width="0.5" opacity="0.6"/>
<rect x="392.70" y="548.4" width="1.6" height="4.1" fill="#1f65a6"/>
<line x1="396.0" y1="552.4" x2="396.0" y2="566.3" stroke="#9c9ea4" stroke-width="0.5" opacity="0.6"/>
<rect x="395.20" y="553.5" width="1.6" height="11.0" fill="#9c9ea4"/>
<line x1="398.5" y1="558.4" x2="398.5" y2="572.6" stroke="#1f65a6" stroke-width="0.5" opacity="0.6"/>
<rect x="397.70" y="561.0" width="1.6" height="10.8" fill="#1f65a6"/>
<line x1="400.9" y1="572.2" x2="400.9" y2="584.1" stroke="#1f65a6" stroke-width="0.5" opacity="0.6"/>
<rect x="400.10" y="573.7" width="1.6" height="8.9" fill="#1f65a6"/>
<line x1="403.5" y1="562.9" x2="403.5" y2="572.6" stroke="#9c9ea4" stroke-width="0.5" opacity="0.6"/>
<rect x="402.70" y="565.9" width="1.6" height="4.9" fill="#9c9ea4"/>
<line x1="405.8" y1="575.6" x2="405.8" y2="583.6" stroke="#9c9ea4" stroke-width="0.5" opacity="0.6"/>
<rect x="405.00" y="578.7" width="1.6" height="3.9" fill="#9c9ea4"/>
<line x1="408.4" y1="563.5" x2="408.4" y2="575.3" stroke="#1f65a6" stroke-width="0.5" opacity="0.6"/>
<rect x="407.60" y="565.0" width="1.6" height="7.8" fill="#1f65a6"/>
<line x1="411.1" y1="570.5" x2="411.1" y2="580.6" stroke="#9c9ea4" stroke-width="0.5" opacity="0.6"/>
<rect x="410.30" y="573.7" width="1.6" height="5.0" fill="#9c9ea4"/>
<line x1="413.7" y1="577.5" x2="413.7" y2="581.5" stroke="#9c9ea4" stroke-width="0.5" opacity="0.6"/>
<rect x="412.90" y="578.7" width="1.6" height="1.9" fill="#9c9ea4"/>
<line x1="416.0" y1="566.7" x2="416.0" y2="578.8" stroke="#1f65a6" stroke-width="0.5" opacity="0.6"/>
<rect x="415.20" y="568.8" width="1.6" height="8.9" fill="#1f65a6"/>
<line x1="418.6" y1="567.9" x2="418.6" y2="577.7" stroke="#9c9ea4" stroke-width="0.5" opacity="0.6"/>
<rect x="417.80" y="570.8" width="1.6" height="3.9" fill="#9c9ea4"/>
<line x1="421.0" y1="570.1" x2="421.0" y2="577.0" stroke="#1f65a6" stroke-width="0.5" opacity="0.6"/>
<rect x="420.20" y="571.2" width="1.6" height="4.5" fill="#1f65a6"/>
<line x1="423.7" y1="556.1" x2="423.7" y2="572.2" stroke="#1f65a6" stroke-width="0.5" opacity="0.6"/>
<rect x="422.90" y="559.0" width="1.6" height="10.8" fill="#1f65a6"/>
<line x1="426.1" y1="542.7" x2="426.1" y2="560.5" stroke="#1f65a6" stroke-width="0.5" opacity="0.6"/>
<rect x="425.30" y="545.6" width="1.6" height="13.4" fill="#1f65a6"/>
<line x1="428.8" y1="538.4" x2="428.8" y2="542.2" stroke="#9c9ea4" stroke-width="0.5" opacity="0.6"/>
<rect x="428.00" y="539.3" width="1.6" height="1.5" fill="#9c9ea4"/>
<line x1="431.0" y1="539.4" x2="431.0" y2="551.4" stroke="#9c9ea4" stroke-width="0.5" opacity="0.6"/>
<rect x="430.20" y="542.3" width="1.6" height="7.8" fill="#9c9ea4"/>
<line x1="433.7" y1="555.5" x2="433.7" y2="562.8" stroke="#9c9ea4" stroke-width="0.5" opacity="0.6"/>
<rect x="432.90" y="557.0" width="1.6" height="4.0" fill="#9c9ea4"/>
<line x1="435.9" y1="560.2" x2="435.9" y2="567.6" stroke="#9c9ea4" stroke-width="0.5" opacity="0.6"/>
<rect x="435.10" y="562.0" width="1.6" height="3.9" fill="#9c9ea4"/>
<line x1="438.3" y1="559.2" x2="438.3" y2="566.9" stroke="#9c9ea4" stroke-width="0.5" opacity="0.6"/>
<rect x="437.50" y="562.5" width="1.6" height="3.4" fill="#9c9ea4"/>
<line x1="440.8" y1="562.8" x2="440.8" y2="570.2" stroke="#9c9ea4" stroke-width="0.5" opacity="0.6"/>
<rect x="440.00" y="563.3" width="1.6" height="3.6" fill="#9c9ea4"/>
<line x1="443.6" y1="563.8" x2="443.6" y2="579.2" stroke="#9c9ea4" stroke-width="0.5" opacity="0.6"/>
<rect x="442.80" y="566.9" width="1.6" height="8.8" fill="#9c9ea4"/>
<line x1="446.1" y1="577.8" x2="446.1" y2="588.0" stroke="#9c9ea4" stroke-width="0.5" opacity="0.6"/>
<rect x="445.30" y="579.6" width="1.6" height="5.0" fill="#9c9ea4"/>
<line x1="448.7" y1="581.3" x2="448.7" y2="590.7" stroke="#1f65a6" stroke-width="0.5" opacity="0.6"/>
<rect x="447.90" y="584.6" width="1.6" height="4.9" fill="#1f65a6"/>
<line x1="451.4" y1="575.0" x2="451.4" y2="584.6" stroke="#1f65a6" stroke-width="0.5" opacity="0.6"/>
<rect x="450.60" y="577.7" width="1.6" height="3.9" fill="#1f65a6"/>
<line x1="453.9" y1="563.5" x2="453.9" y2="572.1" stroke="#9c9ea4" stroke-width="0.5" opacity="0.6"/>
<rect x="453.10" y="566.0" width="1.6" height="4.0" fill="#9c9ea4"/>
<line x1="456.4" y1="565.5" x2="456.4" y2="607.7" stroke="#9c9ea4" stroke-width="0.5" opacity="0.6"/>
<rect x="455.60" y="566.9" width="1.6" height="39.3" fill="#9c9ea4"/>
<line x1="458.9" y1="607.9" x2="458.9" y2="611.8" stroke="#1f65a6" stroke-width="0.5" opacity="0.6"/>
<rect x="458.10" y="609.1" width="1.6" height="2.0" fill="#1f65a6"/>
<line x1="461.5" y1="594.1" x2="461.5" y2="609.6" stroke="#1f65a6" stroke-width="0.5" opacity="0.6"/>
<rect x="460.70" y="596.4" width="1.6" height="11.8" fill="#1f65a6"/>
<line x1="463.8" y1="599.0" x2="463.8" y2="604.4" stroke="#9c9ea4" stroke-width="0.5" opacity="0.6"/>
<rect x="463.00" y="601.9" width="1.6" height="1.9" fill="#9c9ea4"/>
<line x1="466.8" y1="605.9" x2="466.8" y2="625.5" stroke="#9c9ea4" stroke-width="0.5" opacity="0.6"/>
<rect x="466.00" y="609.1" width="1.6" height="13.8" fill="#9c9ea4"/>
<line x1="469.1" y1="609.8" x2="469.1" y2="631.0" stroke="#1f65a6" stroke-width="0.5" opacity="0.6"/>
<rect x="468.30" y="613.1" width="1.6" height="14.7" fill="#1f65a6"/>
<line x1="471.7" y1="603.6" x2="471.7" y2="610.4" stroke="#1f65a6" stroke-width="0.5" opacity="0.6"/>
<rect x="470.90" y="606.8" width="1.6" height="1.4" fill="#1f65a6"/>
<line x1="474.1" y1="605.7" x2="474.1" y2="610.9" stroke="#9c9ea4" stroke-width="0.5" opacity="0.6"/>
<rect x="473.30" y="606.2" width="1.6" height="2.0" fill="#9c9ea4"/>
<line x1="476.6" y1="608.1" x2="476.6" y2="618.4" stroke="#9c9ea4" stroke-width="0.5" opacity="0.6"/>
<rect x="475.80" y="609.1" width="1.6" height="7.9" fill="#9c9ea4"/>
<line x1="479.2" y1="599.8" x2="479.2" y2="609.3" stroke="#1f65a6" stroke-width="0.5" opacity="0.6"/>
<rect x="478.40" y="602.3" width="1.6" height="4.9" fill="#1f65a6"/>
<line x1="481.7" y1="567.1" x2="481.7" y2="602.6" stroke="#1f65a6" stroke-width="0.5" opacity="0.6"/>
<rect x="480.90" y="568.8" width="1.6" height="30.5" fill="#1f65a6"/>
<line x1="484.1" y1="554.7" x2="484.1" y2="574.3" stroke="#1f65a6" stroke-width="0.5" opacity="0.6"/>
<rect x="483.30" y="557.0" width="1.6" height="15.8" fill="#1f65a6"/>
<line x1="486.8" y1="561.6" x2="486.8" y2="603.4" stroke="#9c9ea4" stroke-width="0.5" opacity="0.6"/>
<rect x="486.00" y="562.9" width="1.6" height="37.4" fill="#9c9ea4"/>
<line x1="489.4" y1="592.1" x2="489.4" y2="603.1" stroke="#1f65a6" stroke-width="0.5" opacity="0.6"/>
<rect x="488.60" y="594.0" width="1.6" height="6.3" fill="#1f65a6"/>
<line x1="491.8" y1="583.4" x2="491.8" y2="589.1" stroke="#1f65a6" stroke-width="0.5" opacity="0.6"/>
<rect x="491.00" y="585.0" width="1.6" height="3.0" fill="#1f65a6"/>
<line x1="494.3" y1="583.4" x2="494.3" y2="593.5" stroke="#9c9ea4" stroke-width="0.5" opacity="0.6"/>
<rect x="493.50" y="585.5" width="1.6" height="5.0" fill="#9c9ea4"/>
<line x1="496.9" y1="588.5" x2="496.9" y2="596.3" stroke="#9c9ea4" stroke-width="0.5" opacity="0.6"/>
<rect x="496.10" y="589.5" width="1.6" height="3.9" fill="#9c9ea4"/>
<line x1="499.2" y1="585.2" x2="499.2" y2="593.4" stroke="#1f65a6" stroke-width="0.5" opacity="0.6"/>
<rect x="498.40" y="588.5" width="1.6" height="2.0" fill="#1f65a6"/>
<line x1="501.8" y1="589.0" x2="501.8" y2="600.8" stroke="#9c9ea4" stroke-width="0.5" opacity="0.6"/>
<rect x="501.00" y="592.0" width="1.6" height="8.3" fill="#9c9ea4"/>
<line x1="504.1" y1="595.9" x2="504.1" y2="607.3" stroke="#9c9ea4" stroke-width="0.5" opacity="0.6"/>
<rect x="503.30" y="598.3" width="1.6" height="5.9" fill="#9c9ea4"/>
<line x1="506.7" y1="595.8" x2="506.7" y2="602.6" stroke="#1f65a6" stroke-width="0.5" opacity="0.6"/>
<rect x="505.90" y="596.4" width="1.6" height="4.9" fill="#1f65a6"/>
<line x1="509.1" y1="589.2" x2="509.1" y2="599.4" stroke="#9c9ea4" stroke-width="0.5" opacity="0.6"/>
<rect x="508.30" y="590.5" width="1.6" height="6.8" fill="#9c9ea4"/>
<clipPath id="clbl"><rect x="200" y="468.8" width="398" height="200"/></clipPath>
<g clip-path="url(#clbl)"><rect x="501.60" y="455" width="15.4" height="34.9" rx="7.7" fill="#fde4e5" stroke="#f23645" stroke-width="1.1"/>
<ellipse cx="509.3" cy="470.5" rx="3.8" ry="5.2" fill="#f23645"/></g>
<rect x="501.90" y="496.30" width="14.80" height="7.20" rx="3.60" fill="#fbd0d2" stroke="#f23645" stroke-width="1.1"/>
<ellipse cx="509.3" cy="499.9" rx="3.4" ry="1" fill="#f23645"/>
<rect x="501.90" y="512.00" width="14.80" height="15.20" rx="7.40" fill="#fbd0d2" stroke="#f23645" stroke-width="1.1"/>
<circle cx="509.3" cy="519.6" r="3.9" fill="#f23645"/>
<rect x="501.90" y="535.40" width="14.80" height="8.20" rx="4.10" fill="#fbd0d2" stroke="#f23645" stroke-width="1.1"/>
<ellipse cx="509.3" cy="539.5" rx="3.4" ry="0.9" fill="#f23645"/>
<rect x="501.30" y="576.00" width="16.00" height="13.20" rx="6.60" fill="#f7a7ab" stroke="#f23645" stroke-width="1.1"/>
<text x="518.9" y="473.8" font-size="5.6" fill="#f23645" font-weight="normal" text-anchor="start" >98.57-92.65</text>
<text x="518.9" y="501.8" font-size="5.6" fill="#f23645" font-weight="normal" text-anchor="start" >91.17-89.42</text>
<text x="518.9" y="521.6" font-size="5.6" fill="#f23645" font-weight="normal" text-anchor="start" >87.75-84.08</text>
<text x="518.9" y="541.6" font-size="5.6" fill="#f23645" font-weight="normal" text-anchor="start" >82.03-79.92</text>
<text x="518.9" y="590.3" font-size="5.6" fill="#f23645" font-weight="normal" text-anchor="start" >72.47-69.32</text>
<line x1="563.5" y1="468.8" x2="563.5" y2="660.6" stroke="#9c9ea4" stroke-width="0.8"/>
<line x1="208" y1="646" x2="588.8" y2="646" stroke="#9c9ea4" stroke-width="0.8"/>
<text x="568.2" y="496.09999999999997" font-size="6.2" fill="#222" font-weight="normal" text-anchor="start" >92.00</text>
<text x="568.2" y="512.9" font-size="6.2" fill="#222" font-weight="normal" text-anchor="start" >88.00</text>
<text x="568.2" y="529.5" font-size="6.2" fill="#222" font-weight="normal" text-anchor="start" >84.00</text>
<text x="568.2" y="546.2" font-size="6.2" fill="#222" font-weight="normal" text-anchor="start" >80.00</text>
<text x="568.2" y="564.0" font-size="6.2" fill="#222" font-weight="normal" text-anchor="start" >76.00</text>
<text x="568.2" y="580.2" font-size="6.2" fill="#222" font-weight="normal" text-anchor="start" >72.00</text>
<text x="568.2" y="614.7" font-size="6.2" fill="#222" font-weight="normal" text-anchor="start" >64.00</text>
<text x="568.2" y="631.8000000000001" font-size="6.2" fill="#222" font-weight="normal" text-anchor="start" >60.00</text>
<rect x="565.2" y="470.3" width="22.1" height="20.9" rx="2" fill="#fff" stroke="#eceef1" stroke-width="0.6"/>
<text x="568.5" y="479" font-size="4.8" fill="#333" font-weight="normal" text-anchor="start" >USD</text>
<text x="568.5" y="488" font-size="4.8" fill="#333" font-weight="normal" text-anchor="start" >BLL</text>
<rect x="563.7" y="593.6" width="23.1" height="8" fill="#7d7f85"/>
<text x="566.3" y="599.8" font-size="6.2" fill="#fff" font-weight="normal" text-anchor="start" >67.48</text>
<text x="227.2" y="656.3" font-size="6.5" fill="#222" font-weight="normal" text-anchor="middle" >Jul</text>
<text x="293" y="656.3" font-size="6.5" fill="#222" font-weight="bold" text-anchor="middle" >2024</text>
<text x="357.7" y="656.3" font-size="6.5" fill="#222" font-weight="normal" text-anchor="middle" >Jul</text>
<text x="426.5" y="656.3" font-size="6.5" fill="#222" font-weight="bold" text-anchor="middle" >2025</text>
<text x="492" y="656.3" font-size="6.5" fill="#222" font-weight="normal" text-anchor="middle" >Jul</text>
<text x="556.6" y="656.3" font-size="6.5" fill="#222" font-weight="bold" text-anchor="middle" >2026</text>
<text x="212" y="476.2" font-size="5.5" fill="#333" font-weight="normal" text-anchor="start" textLength="219" lengthAdjust="spacingAndGlyphs">Mini Brent Crude Futures (100 BBL) · 1W · ICESG  O<tspan fill="#d98c8c">68.80</tspan>  H<tspan fill="#d98c8c">68.80</tspan>  L<tspan fill="#d98c8c">66.70</tspan>  C<tspan fill="#d98c8c">67.48</tspan>  <tspan fill="#d98c8c">−0.35 (−0.37%)</tspan></text>
<text x="212" y="483.5" font-size="5.5" fill="#333" font-weight="normal" text-anchor="start" textLength="68" lengthAdjust="spacingAndGlyphs">AutoUFOs (patented) →  (0.5)</text>
<circle cx="509.2" cy="640.5" r="3.9" fill="#fff" stroke="#b23bd9" stroke-width="0.8"/>
<path d="M510,637.8 l-2,3 h2 l-1.5,2.8" fill="none" stroke="#b23bd9" stroke-width="0.7"/>
<circle cx="512" cy="637.6" r="1.1" fill="#f23645"/>
<text x="713.5" y="558.9" font-size="34.5" fill="#dcdde0" font-weight="normal" text-anchor="start" textLength="142.6" lengthAdjust="spacingAndGlyphs">BM1!, 1M</text>
<text x="664.8" y="579.7" font-size="16" fill="#dcdde0" font-weight="normal" text-anchor="start" textLength="242" lengthAdjust="spacingAndGlyphs">Mini Brent Crude Futures (100 BBL)</text>
<rect x="808.7" y="493.6" width="106" height="21.2" fill="#fbb5b8"/>
<rect x="897.3" y="551.2" width="17.4" height="25.5" fill="#b9e0bb"/>
<rect x="766" y="578.6" width="148.7" height="8.1" fill="#b9e0bb"/>
<rect x="758.6" y="596.5" width="156.1" height="8.1" fill="#b9e0bb"/>
<rect x="743.2" y="605.8" width="171.5" height="25.8" fill="#b9e0bb"/>
<line x1="613.9" y1="594.1" x2="613.9" y2="607.5" stroke="#9c9ea4" stroke-width="0.5" opacity="0.6"/>
<rect x="613.10" y="595.3" width="1.6" height="10.1" fill="#9c9ea4"/>
<line x1="617.1" y1="603.8" x2="617.1" y2="609.0" stroke="#9c9ea4" stroke-width="0.5" opacity="0.6"/>
<rect x="616.30" y="605.4" width="1.6" height="1.3" fill="#9c9ea4"/>
<line x1="619.7" y1="601.6" x2="619.7" y2="606.7" stroke="#1f65a6" stroke-width="0.5" opacity="0.6"/>
<rect x="618.90" y="604.0" width="1.6" height="2.0" fill="#1f65a6"/>
<line x1="622.2" y1="601.1" x2="622.2" y2="608.4" stroke="#1f65a6" stroke-width="0.5" opacity="0.6"/>
<rect x="621.40" y="601.6" width="1.6" height="3.8" fill="#1f65a6"/>
<line x1="624.7" y1="591.5" x2="624.7" y2="602.8" stroke="#1f65a6" stroke-width="0.5" opacity="0.6"/>
<rect x="623.90" y="592.8" width="1.6" height="8.8" fill="#1f65a6"/>
<line x1="627.8" y1="585.5" x2="627.8" y2="594.7" stroke="#1f65a6" stroke-width="0.5" opacity="0.6"/>
<rect x="627.00" y="589.0" width="1.6" height="3.8" fill="#1f65a6"/>
<line x1="630.3" y1="584.7" x2="630.3" y2="590.9" stroke="#9c9ea4" stroke-width="0.5" opacity="0.6"/>
<rect x="629.50" y="587.7" width="1.6" height="1.3" fill="#9c9ea4"/>
<line x1="632.3" y1="586.1" x2="632.3" y2="597.5" stroke="#9c9ea4" stroke-width="0.5" opacity="0.6"/>
<rect x="631.50" y="588.5" width="1.6" height="8.0" fill="#9c9ea4"/>
<line x1="634.9" y1="590.4" x2="634.9" y2="599.6" stroke="#1f65a6" stroke-width="0.5" opacity="0.6"/>
<rect x="634.10" y="592.8" width="1.6" height="3.7" fill="#1f65a6"/>
<line x1="637.4" y1="586.9" x2="637.4" y2="594.2" stroke="#1f65a6" stroke-width="0.5" opacity="0.6"/>
<rect x="636.60" y="589.0" width="1.6" height="2.5" fill="#1f65a6"/>
<line x1="639.9" y1="586.0" x2="639.9" y2="590.9" stroke="#9c9ea4" stroke-width="0.5" opacity="0.6"/>
<rect x="639.10" y="588.5" width="1.6" height="1.7" fill="#9c9ea4"/>
<line x1="642.4" y1="583.1" x2="642.4" y2="592.0" stroke="#1f65a6" stroke-width="0.5" opacity="0.6"/>
<rect x="641.60" y="585.9" width="1.6" height="3.8" fill="#1f65a6"/>
<line x1="645.0" y1="578.7" x2="645.0" y2="586.5" stroke="#1f65a6" stroke-width="0.5" opacity="0.6"/>
<rect x="644.20" y="580.1" width="1.6" height="5.8" fill="#1f65a6"/>
<line x1="647.5" y1="576.2" x2="647.5" y2="582.0" stroke="#9c9ea4" stroke-width="0.5" opacity="0.6"/>
<rect x="646.70" y="579.3" width="1.6" height="1.0" fill="#9c9ea4"/>
<line x1="650.0" y1="576.6" x2="650.0" y2="584.5" stroke="#9c9ea4" stroke-width="0.5" opacity="0.6"/>
<rect x="649.20" y="579.3" width="1.6" height="2.1" fill="#9c9ea4"/>
<line x1="652.6" y1="578.3" x2="652.6" y2="588.5" stroke="#9c9ea4" stroke-width="0.5" opacity="0.6"/>
<rect x="651.80" y="580.9" width="1.6" height="4.3" fill="#9c9ea4"/>
<line x1="655.1" y1="582.2" x2="655.1" y2="589.3" stroke="#9c9ea4" stroke-width="0.5" opacity="0.6"/>
<rect x="654.30" y="583.9" width="1.6" height="2.5" fill="#9c9ea4"/>
<line x1="657.6" y1="584.1" x2="657.6" y2="592.3" stroke="#9c9ea4" stroke-width="0.5" opacity="0.6"/>
<rect x="656.80" y="585.9" width="1.6" height="3.1" fill="#9c9ea4"/>
<line x1="660.1" y1="583.3" x2="660.1" y2="590.3" stroke="#9c9ea4" stroke-width="0.5" opacity="0.6"/>
<rect x="659.30" y="586.4" width="1.6" height="3.1" fill="#9c9ea4"/>
<line x1="662.7" y1="584.3" x2="662.7" y2="590.9" stroke="#1f65a6" stroke-width="0.5" opacity="0.6"/>
<rect x="661.90" y="585.2" width="1.6" height="4.5" fill="#1f65a6"/>
<line x1="665.2" y1="577.5" x2="665.2" y2="584.4" stroke="#9c9ea4" stroke-width="0.5" opacity="0.6"/>
<rect x="664.40" y="580.9" width="1.6" height="1.7" fill="#9c9ea4"/>
<line x1="667.7" y1="576.9" x2="667.7" y2="585.8" stroke="#1f65a6" stroke-width="0.5" opacity="0.6"/>
<rect x="666.90" y="579.3" width="1.6" height="5.1" fill="#1f65a6"/>
<line x1="670.3" y1="571.8" x2="670.3" y2="581.0" stroke="#1f65a6" stroke-width="0.5" opacity="0.6"/>
<rect x="669.50" y="573.8" width="1.6" height="5.5" fill="#1f65a6"/>
<line x1="672.8" y1="569.6" x2="672.8" y2="576.1" stroke="#1f65a6" stroke-width="0.5" opacity="0.6"/>
<rect x="672.00" y="571.2" width="1.6" height="2.6" fill="#1f65a6"/>
<line x1="675.3" y1="565.2" x2="675.3" y2="574.4" stroke="#1f65a6" stroke-width="0.5" opacity="0.6"/>
<rect x="674.50" y="567.5" width="1.6" height="3.7" fill="#1f65a6"/>
<line x1="678.4" y1="561.2" x2="678.4" y2="570.8" stroke="#1f65a6" stroke-width="0.5" opacity="0.6"/>
<rect x="677.60" y="563.7" width="1.6" height="3.8" fill="#1f65a6"/>
<line x1="680.9" y1="560.6" x2="680.9" y2="572.2" stroke="#9c9ea4" stroke-width="0.5" opacity="0.6"/>
<rect x="680.10" y="563.7" width="1.6" height="5.0" fill="#9c9ea4"/>
<line x1="682.9" y1="559.9" x2="682.9" y2="570.2" stroke="#1f65a6" stroke-width="0.5" opacity="0.6"/>
<rect x="682.10" y="562.4" width="1.6" height="6.8" fill="#1f65a6"/>
<line x1="685.4" y1="553.5" x2="685.4" y2="565.8" stroke="#1f65a6" stroke-width="0.5" opacity="0.6"/>
<rect x="684.60" y="556.6" width="1.6" height="5.8" fill="#1f65a6"/>
<line x1="688.0" y1="549.1" x2="688.0" y2="558.8" stroke="#1f65a6" stroke-width="0.5" opacity="0.6"/>
<rect x="687.20" y="552.3" width="1.6" height="4.3" fill="#1f65a6"/>
<line x1="690.5" y1="548.4" x2="690.5" y2="554.6" stroke="#9c9ea4" stroke-width="0.5" opacity="0.6"/>
<rect x="689.70" y="551.0" width="1.6" height="2.5" fill="#9c9ea4"/>
<line x1="693.0" y1="549.3" x2="693.0" y2="558.3" stroke="#9c9ea4" stroke-width="0.5" opacity="0.6"/>
<rect x="692.20" y="552.3" width="1.6" height="3.8" fill="#9c9ea4"/>
<line x1="695.6" y1="550.9" x2="695.6" y2="557.3" stroke="#1f65a6" stroke-width="0.5" opacity="0.6"/>
<rect x="694.80" y="552.3" width="1.6" height="4.3" fill="#1f65a6"/>
<line x1="698.1" y1="543.4" x2="698.1" y2="555.8" stroke="#1f65a6" stroke-width="0.5" opacity="0.6"/>
<rect x="697.30" y="546.5" width="1.6" height="5.8" fill="#1f65a6"/>
<line x1="700.6" y1="545.7" x2="700.6" y2="551.4" stroke="#9c9ea4" stroke-width="0.5" opacity="0.6"/>
<rect x="699.80" y="546.5" width="1.6" height="2.0" fill="#9c9ea4"/>
<line x1="703.2" y1="554.9" x2="703.2" y2="577.3" stroke="#9c9ea4" stroke-width="0.5" opacity="0.6"/>
<rect x="702.40" y="556.6" width="1.6" height="19.7" fill="#9c9ea4"/>
<line x1="705.7" y1="572.4" x2="705.7" y2="585.4" stroke="#9c9ea4" stroke-width="0.5" opacity="0.6"/>
<rect x="704.90" y="573.8" width="1.6" height="8.8" fill="#9c9ea4"/>
<line x1="708.2" y1="570.7" x2="708.2" y2="583.2" stroke="#1f65a6" stroke-width="0.5" opacity="0.6"/>
<rect x="707.40" y="573.8" width="1.6" height="8.8" fill="#1f65a6"/>
<line x1="710.7" y1="565.2" x2="710.7" y2="574.4" stroke="#1f65a6" stroke-width="0.5" opacity="0.6"/>
<rect x="709.90" y="567.5" width="1.6" height="6.3" fill="#1f65a6"/>
<line x1="713.3" y1="563.5" x2="713.3" y2="570.2" stroke="#1f65a6" stroke-width="0.5" opacity="0.6"/>
<rect x="712.50" y="566.2" width="1.6" height="2.5" fill="#1f65a6"/>
<line x1="715.8" y1="557.5" x2="715.8" y2="568.3" stroke="#1f65a6" stroke-width="0.5" opacity="0.6"/>
<rect x="715.00" y="560.6" width="1.6" height="4.3" fill="#1f65a6"/>
<line x1="718.3" y1="559.1" x2="718.3" y2="574.7" stroke="#9c9ea4" stroke-width="0.5" opacity="0.6"/>
<rect x="717.50" y="561.1" width="1.6" height="10.1" fill="#9c9ea4"/>
<line x1="720.9" y1="567.3" x2="720.9" y2="574.5" stroke="#1f65a6" stroke-width="0.5" opacity="0.6"/>
<rect x="720.10" y="568.7" width="1.6" height="5.1" fill="#1f65a6"/>
<line x1="723.4" y1="566.9" x2="723.4" y2="571.8" stroke="#9c9ea4" stroke-width="0.5" opacity="0.6"/>
<rect x="722.60" y="569.2" width="1.6" height="2.0" fill="#9c9ea4"/>
<line x1="725.9" y1="570.1" x2="725.9" y2="578.0" stroke="#9c9ea4" stroke-width="0.5" opacity="0.6"/>
<rect x="725.10" y="571.2" width="1.6" height="5.1" fill="#9c9ea4"/>
<line x1="729.0" y1="572.7" x2="729.0" y2="577.3" stroke="#9c9ea4" stroke-width="0.5" opacity="0.6"/>
<rect x="728.20" y="575.0" width="1.6" height="1.3" fill="#9c9ea4"/>
<line x1="731.5" y1="573.7" x2="731.5" y2="579.4" stroke="#9c9ea4" stroke-width="0.5" opacity="0.6"/>
<rect x="730.70" y="574.3" width="1.6" height="2.0" fill="#9c9ea4"/>
<line x1="734.0" y1="571.1" x2="734.0" y2="578.4" stroke="#1f65a6" stroke-width="0.5" opacity="0.6"/>
<rect x="733.20" y="572.5" width="1.6" height="2.5" fill="#1f65a6"/>
<line x1="736.5" y1="564.3" x2="736.5" y2="574.1" stroke="#1f65a6" stroke-width="0.5" opacity="0.6"/>
<rect x="735.70" y="567.5" width="1.6" height="5.0" fill="#1f65a6"/>
<line x1="739.1" y1="566.8" x2="739.1" y2="582.2" stroke="#9c9ea4" stroke-width="0.5" opacity="0.6"/>
<rect x="738.30" y="568.7" width="1.6" height="11.4" fill="#9c9ea4"/>
<line x1="741.6" y1="579.0" x2="741.6" y2="591.3" stroke="#9c9ea4" stroke-width="0.5" opacity="0.6"/>
<rect x="740.80" y="581.4" width="1.6" height="7.6" fill="#9c9ea4"/>
<line x1="743.6" y1="586.8" x2="743.6" y2="620.4" stroke="#9c9ea4" stroke-width="0.5" opacity="0.6"/>
<rect x="742.80" y="589.0" width="1.6" height="29.0" fill="#9c9ea4"/>
<line x1="746.2" y1="611.0" x2="746.2" y2="620.0" stroke="#9c9ea4" stroke-width="0.5" opacity="0.6"/>
<rect x="745.40" y="614.3" width="1.6" height="3.7" fill="#9c9ea4"/>
<line x1="748.7" y1="601.8" x2="748.7" y2="619.5" stroke="#1f65a6" stroke-width="0.5" opacity="0.6"/>
<rect x="747.90" y="603.6" width="1.6" height="13.2" fill="#1f65a6"/>
<line x1="751.2" y1="597.8" x2="751.2" y2="605.0" stroke="#1f65a6" stroke-width="0.5" opacity="0.6"/>
<rect x="750.40" y="599.0" width="1.6" height="4.6" fill="#1f65a6"/>
<line x1="753.7" y1="593.1" x2="753.7" y2="601.1" stroke="#1f65a6" stroke-width="0.5" opacity="0.6"/>
<rect x="752.90" y="596.5" width="1.6" height="2.5" fill="#1f65a6"/>
<line x1="756.3" y1="592.4" x2="756.3" y2="597.5" stroke="#1f65a6" stroke-width="0.5" opacity="0.6"/>
<rect x="755.50" y="594.5" width="1.6" height="2.5" fill="#1f65a6"/>
<line x1="758.8" y1="592.8" x2="758.8" y2="602.5" stroke="#9c9ea4" stroke-width="0.5" opacity="0.6"/>
<rect x="758.00" y="594.5" width="1.6" height="5.8" fill="#9c9ea4"/>
<line x1="761.3" y1="598.4" x2="761.3" y2="606.4" stroke="#9c9ea4" stroke-width="0.5" opacity="0.6"/>
<rect x="760.50" y="599.0" width="1.6" height="5.1" fill="#9c9ea4"/>
<line x1="763.9" y1="587.8" x2="763.9" y2="604.8" stroke="#1f65a6" stroke-width="0.5" opacity="0.6"/>
<rect x="763.10" y="590.2" width="1.6" height="13.9" fill="#1f65a6"/>
<line x1="766.4" y1="583.5" x2="766.4" y2="593.4" stroke="#1f65a6" stroke-width="0.5" opacity="0.6"/>
<rect x="765.60" y="585.9" width="1.6" height="5.6" fill="#1f65a6"/>
<line x1="768.9" y1="577.6" x2="768.9" y2="587.5" stroke="#1f65a6" stroke-width="0.5" opacity="0.6"/>
<rect x="768.10" y="580.1" width="1.6" height="5.8" fill="#1f65a6"/>
<line x1="771.5" y1="567.4" x2="771.5" y2="582.8" stroke="#1f65a6" stroke-width="0.5" opacity="0.6"/>
<rect x="770.70" y="570.0" width="1.6" height="10.1" fill="#1f65a6"/>
<line x1="774.0" y1="566.9" x2="774.0" y2="571.9" stroke="#1f65a6" stroke-width="0.5" opacity="0.6"/>
<rect x="773.20" y="567.5" width="1.6" height="3.7" fill="#1f65a6"/>
<line x1="775.5" y1="563.9" x2="775.5" y2="573.7" stroke="#1f65a6" stroke-width="0.5" opacity="0.6"/>
<rect x="774.70" y="566.4" width="1.6" height="3.9" fill="#1f65a6"/>
<line x1="778.6" y1="561.1" x2="778.6" y2="567.9" stroke="#1f65a6" stroke-width="0.5" opacity="0.6"/>
<rect x="777.80" y="562.4" width="1.6" height="3.6" fill="#1f65a6"/>
<line x1="781.0" y1="554.1" x2="781.0" y2="563.9" stroke="#1f65a6" stroke-width="0.5" opacity="0.6"/>
<rect x="780.20" y="556.4" width="1.6" height="6.0" fill="#1f65a6"/>
<line x1="783.9" y1="554.3" x2="783.9" y2="560.2" stroke="#9c9ea4" stroke-width="0.5" opacity="0.6"/>
<rect x="783.10" y="555.9" width="1.6" height="2.9" fill="#9c9ea4"/>
<line x1="786.3" y1="554.3" x2="786.3" y2="562.3" stroke="#9c9ea4" stroke-width="0.5" opacity="0.6"/>
<rect x="785.50" y="555.9" width="1.6" height="4.1" fill="#9c9ea4"/>
<line x1="788.7" y1="550.2" x2="788.7" y2="561.6" stroke="#1f65a6" stroke-width="0.5" opacity="0.6"/>
<rect x="787.90" y="551.6" width="1.6" height="8.4" fill="#1f65a6"/>
<line x1="791.0" y1="542.9" x2="791.0" y2="552.2" stroke="#1f65a6" stroke-width="0.5" opacity="0.6"/>
<rect x="790.20" y="545.7" width="1.6" height="5.9" fill="#1f65a6"/>
<line x1="793.9" y1="547.0" x2="793.9" y2="565.1" stroke="#9c9ea4" stroke-width="0.5" opacity="0.6"/>
<rect x="793.10" y="549.2" width="1.6" height="13.2" fill="#9c9ea4"/>
<line x1="796.3" y1="551.4" x2="796.3" y2="561.2" stroke="#1f65a6" stroke-width="0.5" opacity="0.6"/>
<rect x="795.50" y="552.8" width="1.6" height="7.2" fill="#1f65a6"/>
<line x1="798.7" y1="535.6" x2="798.7" y2="552.8" stroke="#1f65a6" stroke-width="0.5" opacity="0.6"/>
<rect x="797.90" y="538.5" width="1.6" height="13.1" fill="#1f65a6"/>
<line x1="801.1" y1="526.7" x2="801.1" y2="539.1" stroke="#1f65a6" stroke-width="0.5" opacity="0.6"/>
<rect x="800.30" y="527.8" width="1.6" height="9.5" fill="#1f65a6"/>
<line x1="803.9" y1="516.8" x2="803.9" y2="526.2" stroke="#1f65a6" stroke-width="0.5" opacity="0.6"/>
<rect x="803.10" y="519.4" width="1.6" height="6.0" fill="#1f65a6"/>
<line x1="806.3" y1="513.8" x2="806.3" y2="519.7" stroke="#1f65a6" stroke-width="0.5" opacity="0.6"/>
<rect x="805.50" y="515.3" width="1.6" height="2.9" fill="#1f65a6"/>
<line x1="809.0" y1="501.4" x2="809.0" y2="515.2" stroke="#1f65a6" stroke-width="0.5" opacity="0.6"/>
<rect x="808.20" y="504.4" width="1.6" height="9.0" fill="#1f65a6"/>
<line x1="811.3" y1="500.3" x2="811.3" y2="507.3" stroke="#9c9ea4" stroke-width="0.5" opacity="0.6"/>
<rect x="810.50" y="503.4" width="1.6" height="2.9" fill="#9c9ea4"/>
<line x1="813.7" y1="507.6" x2="813.7" y2="521.9" stroke="#9c9ea4" stroke-width="0.5" opacity="0.6"/>
<rect x="812.90" y="509.1" width="1.6" height="10.3" fill="#9c9ea4"/>
<line x1="816.1" y1="521.0" x2="816.1" y2="530.9" stroke="#9c9ea4" stroke-width="0.5" opacity="0.6"/>
<rect x="815.30" y="524.2" width="1.6" height="4.8" fill="#9c9ea4"/>
<line x1="818.5" y1="533.2" x2="818.5" y2="543.5" stroke="#9c9ea4" stroke-width="0.5" opacity="0.6"/>
<rect x="817.70" y="534.4" width="1.6" height="8.2" fill="#9c9ea4"/>
<line x1="820.9" y1="532.3" x2="820.9" y2="540.3" stroke="#1f65a6" stroke-width="0.5" opacity="0.6"/>
<rect x="820.10" y="534.4" width="1.6" height="4.8" fill="#1f65a6"/>
<line x1="823.3" y1="528.4" x2="823.3" y2="542.7" stroke="#9c9ea4" stroke-width="0.5" opacity="0.6"/>
<rect x="822.50" y="531.3" width="1.6" height="8.4" fill="#9c9ea4"/>
<line x1="826.4" y1="541.5" x2="826.4" y2="547.0" stroke="#9c9ea4" stroke-width="0.5" opacity="0.6"/>
<rect x="825.60" y="542.6" width="1.6" height="3.1" fill="#9c9ea4"/>
<line x1="829.2" y1="540.4" x2="829.2" y2="549.3" stroke="#9c9ea4" stroke-width="0.5" opacity="0.6"/>
<rect x="828.40" y="543.3" width="1.6" height="3.6" fill="#9c9ea4"/>
<line x1="832.1" y1="541.6" x2="832.1" y2="550.7" stroke="#9c9ea4" stroke-width="0.5" opacity="0.6"/>
<rect x="831.30" y="544.5" width="1.6" height="4.7" fill="#9c9ea4"/>
<line x1="835.9" y1="542.4" x2="835.9" y2="551.1" stroke="#9c9ea4" stroke-width="0.5" opacity="0.6"/>
<rect x="835.10" y="543.3" width="1.6" height="6.4" fill="#9c9ea4"/>
<line x1="838.8" y1="547.5" x2="838.8" y2="560.1" stroke="#9c9ea4" stroke-width="0.5" opacity="0.6"/>
<rect x="838.00" y="550.4" width="1.6" height="8.4" fill="#9c9ea4"/>
<line x1="841.7" y1="552.5" x2="841.7" y2="559.4" stroke="#1f65a6" stroke-width="0.5" opacity="0.6"/>
<rect x="840.90" y="554.0" width="1.6" height="3.6" fill="#1f65a6"/>
<line x1="844.0" y1="540.8" x2="844.0" y2="557.6" stroke="#1f65a6" stroke-width="0.5" opacity="0.6"/>
<rect x="843.20" y="542.6" width="1.6" height="13.3" fill="#1f65a6"/>
<line x1="846.4" y1="535.9" x2="846.4" y2="543.6" stroke="#1f65a6" stroke-width="0.5" opacity="0.6"/>
<rect x="845.60" y="539.2" width="1.6" height="3.4" fill="#1f65a6"/>
<line x1="848.8" y1="534.4" x2="848.8" y2="541.8" stroke="#1f65a6" stroke-width="0.5" opacity="0.6"/>
<rect x="848.00" y="534.9" width="1.6" height="3.6" fill="#1f65a6"/>
<line x1="851.2" y1="533.0" x2="851.2" y2="545.6" stroke="#9c9ea4" stroke-width="0.5" opacity="0.6"/>
<rect x="850.40" y="536.1" width="1.6" height="6.0" fill="#9c9ea4"/>
<line x1="853.6" y1="541.5" x2="853.6" y2="551.4" stroke="#9c9ea4" stroke-width="0.5" opacity="0.6"/>
<rect x="852.80" y="543.3" width="1.6" height="4.7" fill="#9c9ea4"/>
<line x1="856.0" y1="544.7" x2="856.0" y2="554.0" stroke="#9c9ea4" stroke-width="0.5" opacity="0.6"/>
<rect x="855.20" y="548.0" width="1.6" height="4.8" fill="#9c9ea4"/>
<line x1="858.4" y1="546.5" x2="858.4" y2="557.0" stroke="#1f65a6" stroke-width="0.5" opacity="0.6"/>
<rect x="857.60" y="549.2" width="1.6" height="4.8" fill="#1f65a6"/>
<line x1="860.8" y1="544.8" x2="860.8" y2="553.3" stroke="#1f65a6" stroke-width="0.5" opacity="0.6"/>
<rect x="860.00" y="547.3" width="1.6" height="3.9" fill="#1f65a6"/>
<line x1="863.9" y1="540.2" x2="863.9" y2="546.5" stroke="#1f65a6" stroke-width="0.5" opacity="0.6"/>
<rect x="863.10" y="541.6" width="1.6" height="3.4" fill="#1f65a6"/>
<line x1="866.3" y1="539.0" x2="866.3" y2="543.3" stroke="#9c9ea4" stroke-width="0.5" opacity="0.6"/>
<rect x="865.50" y="540.2" width="1.6" height="2.4" fill="#9c9ea4"/>
<line x1="869.4" y1="541.0" x2="869.4" y2="548.3" stroke="#9c9ea4" stroke-width="0.5" opacity="0.6"/>
<rect x="868.60" y="543.3" width="1.6" height="3.6" fill="#9c9ea4"/>
<line x1="871.7" y1="541.1" x2="871.7" y2="549.8" stroke="#1f65a6" stroke-width="0.5" opacity="0.6"/>
<rect x="870.90" y="544.0" width="1.6" height="5.2" fill="#1f65a6"/>
<line x1="874.1" y1="540.1" x2="874.1" y2="551.8" stroke="#9c9ea4" stroke-width="0.5" opacity="0.6"/>
<rect x="873.30" y="543.3" width="1.6" height="5.9" fill="#9c9ea4"/>
<line x1="877.0" y1="544.7" x2="877.0" y2="556.0" stroke="#9c9ea4" stroke-width="0.5" opacity="0.6"/>
<rect x="876.20" y="548.0" width="1.6" height="4.8" fill="#9c9ea4"/>
<line x1="879.4" y1="550.8" x2="879.4" y2="562.2" stroke="#9c9ea4" stroke-width="0.5" opacity="0.6"/>
<rect x="878.60" y="554.0" width="1.6" height="6.0" fill="#9c9ea4"/>
<line x1="881.8" y1="558.3" x2="881.8" y2="562.7" stroke="#9c9ea4" stroke-width="0.5" opacity="0.6"/>
<rect x="881.00" y="558.8" width="1.6" height="1.2" fill="#9c9ea4"/>
<line x1="884.2" y1="557.8" x2="884.2" y2="561.4" stroke="#9c9ea4" stroke-width="0.5" opacity="0.6"/>
<rect x="883.40" y="558.8" width="1.6" height="1.2" fill="#9c9ea4"/>
<line x1="886.6" y1="555.1" x2="886.6" y2="561.6" stroke="#9c9ea4" stroke-width="0.5" opacity="0.6"/>
<rect x="885.80" y="557.6" width="1.6" height="1.9" fill="#9c9ea4"/>
<line x1="888.9" y1="554.2" x2="888.9" y2="562.1" stroke="#1f65a6" stroke-width="0.5" opacity="0.6"/>
<rect x="888.10" y="555.9" width="1.6" height="2.9" fill="#1f65a6"/>
<line x1="891.8" y1="553.6" x2="891.8" y2="560.3" stroke="#9c9ea4" stroke-width="0.5" opacity="0.6"/>
<rect x="891.00" y="555.9" width="1.6" height="2.9" fill="#9c9ea4"/>
<line x1="894.2" y1="555.1" x2="894.2" y2="563.1" stroke="#9c9ea4" stroke-width="0.5" opacity="0.6"/>
<rect x="893.40" y="556.4" width="1.6" height="3.6" fill="#9c9ea4"/>
<line x1="896.6" y1="556.9" x2="896.6" y2="575.9" stroke="#9c9ea4" stroke-width="0.5" opacity="0.6"/>
<rect x="895.80" y="558.8" width="1.6" height="14.3" fill="#9c9ea4"/>
<line x1="899.0" y1="560.8" x2="899.0" y2="575.4" stroke="#1f65a6" stroke-width="0.5" opacity="0.6"/>
<rect x="898.20" y="562.4" width="1.6" height="11.9" fill="#1f65a6"/>
<line x1="901.8" y1="563.9" x2="901.8" y2="571.3" stroke="#1f65a6" stroke-width="0.5" opacity="0.6"/>
<rect x="901.00" y="566.0" width="1.6" height="2.3" fill="#1f65a6"/>
<line x1="904.2" y1="560.2" x2="904.2" y2="570.1" stroke="#1f65a6" stroke-width="0.5" opacity="0.6"/>
<rect x="903.40" y="561.2" width="1.6" height="6.0" fill="#1f65a6"/>
<line x1="906.6" y1="559.1" x2="906.6" y2="568.9" stroke="#9c9ea4" stroke-width="0.5" opacity="0.6"/>
<rect x="905.80" y="562.4" width="1.6" height="3.6" fill="#9c9ea4"/>
<rect x="899.50" y="493.90" width="14.60" height="20.60" rx="7.30" fill="#fbc9cb" stroke="#f23645" stroke-width="1.1"/>
<ellipse cx="906.8" cy="507.2" rx="3.2" ry="4.6" fill="#f23645"/>
<rect x="899.50" y="551.50" width="14.60" height="25.00" rx="7.30" fill="#a9d8ab" stroke="#4caf50" stroke-width="1.1"/>
<circle cx="906.8" cy="569.5" r="4" fill="#4caf50"/>
<rect x="899.50" y="578.70" width="14.60" height="7.80" rx="3.90" fill="#a9d8ab" stroke="#4caf50" stroke-width="1.1"/>
<ellipse cx="906.8" cy="582.6" rx="3.2" ry="1.5" fill="#4caf50"/>
<rect x="899.50" y="596.70" width="14.60" height="7.80" rx="3.90" fill="#a9d8ab" stroke="#4caf50" stroke-width="1.1"/>
<ellipse cx="906.8" cy="600.6" rx="3.2" ry="1.5" fill="#4caf50"/>
<rect x="899.50" y="606.60" width="14.60" height="24.80" rx="7.30" fill="#b9e0bb" stroke="#4caf50" stroke-width="1.1"/>
<ellipse cx="906.8" cy="619" rx="2.6" ry="0.8" fill="#4caf50"/>
<text x="917.1" y="509.6" font-size="5.6" fill="#f23645" font-weight="normal" text-anchor="start" >123.58-107.05</text>
<text x="917.1" y="572.5" font-size="5.6" fill="#4caf50" font-weight="normal" text-anchor="start" >78.85-59.44</text>
<text x="917.1" y="584.6" font-size="5.6" fill="#4caf50" font-weight="normal" text-anchor="start" >57.34-50.99</text>
<text x="917.1" y="603.4" font-size="5.6" fill="#4caf50" font-weight="normal" text-anchor="start" >43.34-36.80</text>
<text x="917.1" y="620.5" font-size="5.6" fill="#4caf50" font-weight="normal" text-anchor="start" >35.82-16.10</text>
<line x1="961.7" y1="468.4" x2="961.7" y2="661" stroke="#9c9ea4" stroke-width="0.8"/>
<line x1="610.6" y1="645.6" x2="990" y2="645.6" stroke="#9c9ea4" stroke-width="0.8"/>
<rect x="963.5" y="470.3" width="22.1" height="20.7" rx="2" fill="#fff" stroke="#eceef1" stroke-width="0.6"/>
<text x="966.8" y="479" font-size="4.8" fill="#333" font-weight="normal" text-anchor="start" >USD</text>
<text x="966.8" y="488" font-size="4.8" fill="#333" font-weight="normal" text-anchor="start" >BLL</text>
<text x="966.3" y="500.59999999999997" font-size="6.2" fill="#222" font-weight="normal" text-anchor="start" >120.00</text>
<text x="966.3" y="526.5" font-size="6.2" fill="#222" font-weight="normal" text-anchor="start" >100.00</text>
<text x="966.3" y="551.5" font-size="6.2" fill="#222" font-weight="normal" text-anchor="start" >80.00</text>
<text x="966.3" y="576.9000000000001" font-size="6.2" fill="#222" font-weight="normal" text-anchor="start" >60.00</text>
<text x="966.3" y="603.6" font-size="6.2" fill="#222" font-weight="normal" text-anchor="start" >40.00</text>
<text x="966.3" y="628.6" font-size="6.2" fill="#222" font-weight="normal" text-anchor="start" >20.00</text>
<rect x="961.7" y="561" width="23" height="9.1" fill="#7d7f85"/>
<text x="964.5" y="567.8" font-size="6.2" fill="#fff" font-weight="normal" text-anchor="start" >67.48</text>
<text x="616.9" y="656.3" font-size="6.5" fill="#222" font-weight="bold" text-anchor="middle" >2016</text>
<text x="647.3" y="656.3" font-size="6.5" fill="#222" font-weight="bold" text-anchor="middle" >2017</text>
<text x="677.7" y="656.3" font-size="6.5" fill="#222" font-weight="bold" text-anchor="middle" >2018</text>
<text x="707.8" y="656.3" font-size="6.5" fill="#222" font-weight="bold" text-anchor="middle" >2019</text>
<text x="737.8" y="656.3" font-size="6.5" fill="#222" font-weight="bold" text-anchor="middle" >2020</text>
<text x="767" y="656.3" font-size="6.5" fill="#222" font-weight="bold" text-anchor="middle" >2021</text>
<text x="798.3" y="656.3" font-size="6.5" fill="#222" font-weight="bold" text-anchor="middle" >2022</text>
<text x="828.3" y="656.3" font-size="6.5" fill="#222" font-weight="bold" text-anchor="middle" >2023</text>
<text x="859.6" y="656.3" font-size="6.5" fill="#222" font-weight="bold" text-anchor="middle" >2024</text>
<text x="890" y="656.3" font-size="6.5" fill="#222" font-weight="bold" text-anchor="middle" >2025</text>
<text x="919.2" y="656.3" font-size="6.5" fill="#222" font-weight="bold" text-anchor="middle" >2026</text>
<text x="949.6" y="656.3" font-size="6.5" fill="#222" font-weight="bold" text-anchor="middle" >2027</text>
<text x="612.7" y="476.2" font-size="5.5" fill="#333" font-weight="normal" text-anchor="start" textLength="222" lengthAdjust="spacingAndGlyphs">Mini Brent Crude Futures (100 BBL) · 1M · ICESG  O<tspan fill="#d98c8c">69.67</tspan>  H<tspan fill="#d98c8c">69.67</tspan>  L<tspan fill="#d98c8c">65.63</tspan>  C<tspan fill="#d98c8c">67.48</tspan>  <tspan fill="#d98c8c">−4.32 (−5.89%)</tspan></text>
<text x="612.7" y="483.5" font-size="5.5" fill="#333" font-weight="normal" text-anchor="start" textLength="68" lengthAdjust="spacingAndGlyphs">AutoUFOs (patented) →  (0.5)</text>
<circle cx="907.3" cy="641.2" r="3.9" fill="#fff" stroke="#b23bd9" stroke-width="0.8"/>
<path d="M908,638.5 l-2,3 h2 l-1.5,2.8" fill="none" stroke="#b23bd9" stroke-width="0.7"/>
<circle cx="910" cy="638.3" r="1.1" fill="#f23645"/>
</svg>
</body></html>
